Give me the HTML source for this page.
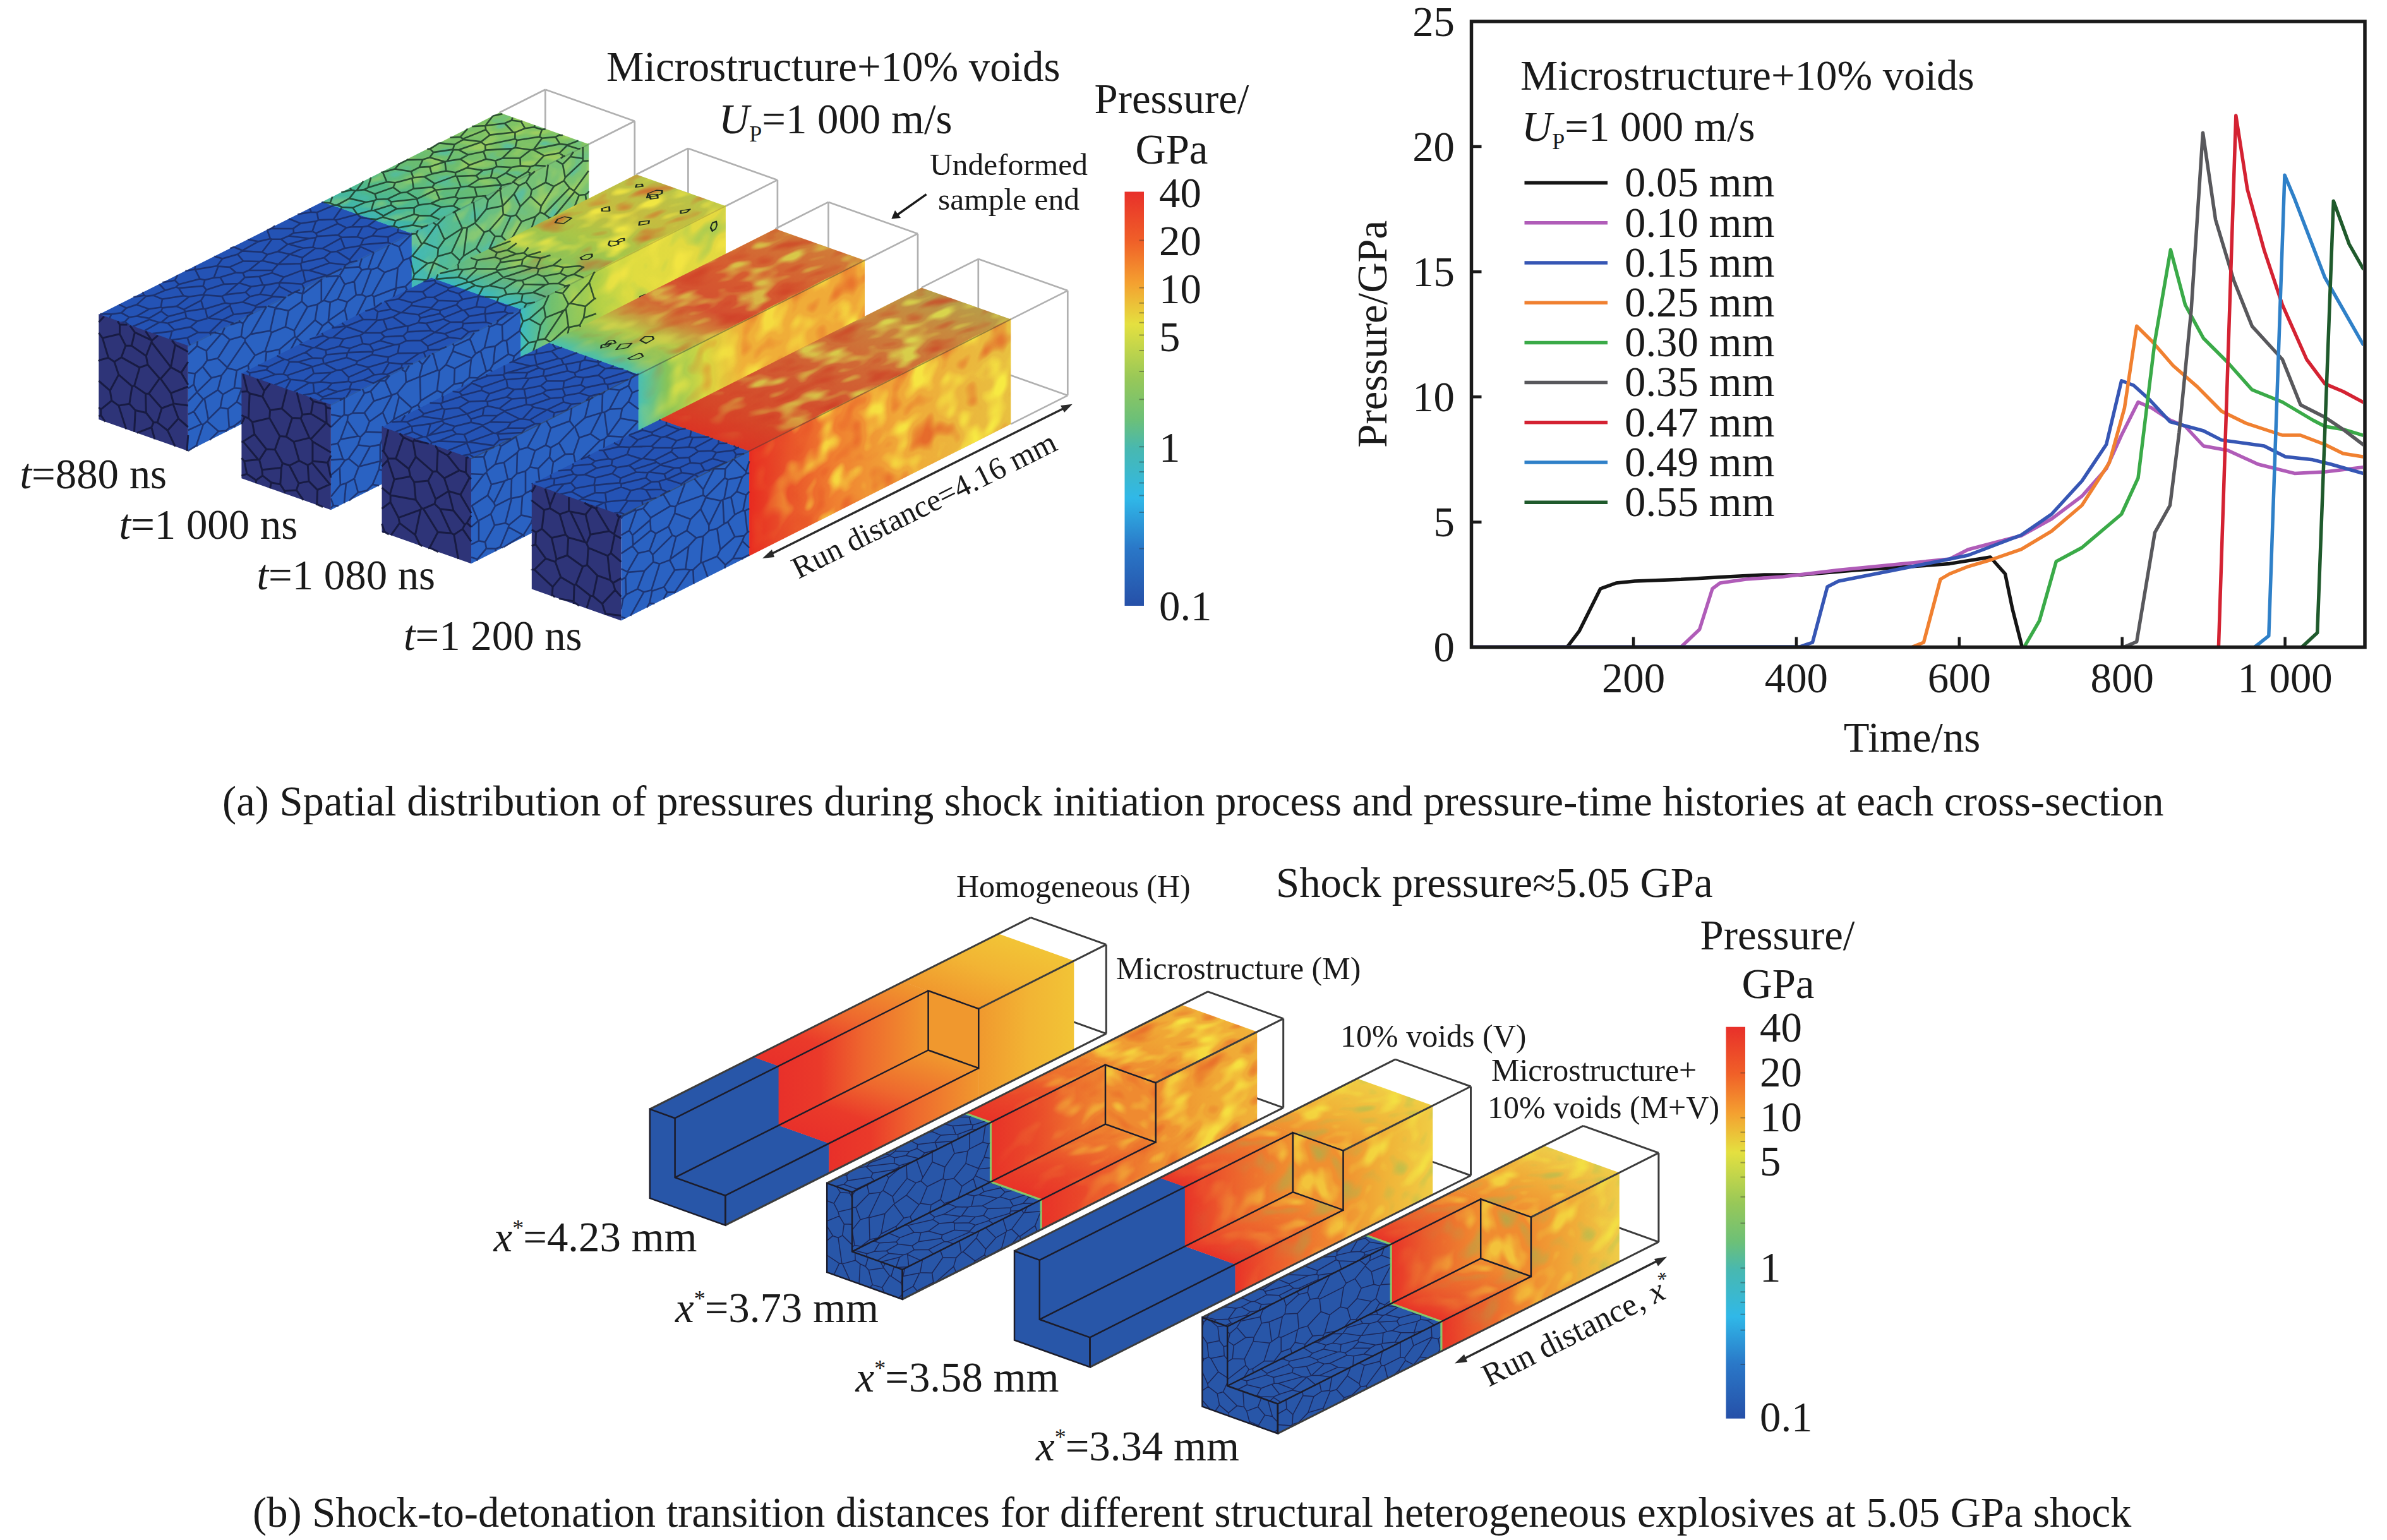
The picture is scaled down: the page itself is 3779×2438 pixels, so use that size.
<!DOCTYPE html>
<html><head><meta charset="utf-8"><title>figure</title>
<style>html,body{margin:0;padding:0;background:#fff;width:3779px;height:2438px;overflow:hidden}svg{display:block}</style>
</head><body>
<svg width="3779" height="2438" viewBox="0 0 3779 2438" font-family="'Liberation Serif', serif" fill="#1a1a1a">
<defs>
<clipPath id="plotclip"><rect x="2331" y="36" width="1410" height="987"/></clipPath>

<filter id="blobA" x="0" y="0" width="1" height="1" color-interpolation-filters="sRGB">
 <feTurbulence type="fractalNoise" baseFrequency="0.022 0.03" numOctaves="2" seed="4" result="n"/>
 <feColorMatrix in="n" type="matrix" values="0 0 0 0 0.97 0 0 0 0 0.92 0 0 0 0 0.26 4.5 0 0 0 -2.3" result="y"/>
 <feColorMatrix in="n" type="matrix" values="0 0 0 0 0.88 0 0 0 0 0.20 0 0 0 0 0.12 -4 0 0 0 1.75" result="r"/>
 <feComponentTransfer in="r" result="r2"><feFuncA type="linear" slope="0.6"/></feComponentTransfer>
 <feMerge result="m"><feMergeNode in="r2"/><feMergeNode in="y"/></feMerge>
 <feComposite in="m" in2="SourceAlpha" operator="in"/>
</filter>
<filter id="blobT" x="0" y="0" width="1" height="1" color-interpolation-filters="sRGB">
 <feTurbulence type="fractalNoise" baseFrequency="0.022 0.03" numOctaves="2" seed="4" result="n"/>
 <feColorMatrix in="n" type="matrix" values="0 0 0 0 0.85 0 0 0 0 0.84 0 0 0 0 0.30 4.5 0 0 0 -2.3" result="y"/>
 <feColorMatrix in="n" type="matrix" values="0 0 0 0 0.80 0 0 0 0 0.18 0 0 0 0 0.12 -4 0 0 0 1.75" result="r"/>
 <feComponentTransfer in="r" result="r2"><feFuncA type="linear" slope="0.6"/></feComponentTransfer>
 <feMerge result="m"><feMergeNode in="r2"/><feMergeNode in="y"/></feMerge>
 <feComposite in="m" in2="SourceAlpha" operator="in"/>
</filter>
<filter id="blobG" x="0" y="0" width="1" height="1" color-interpolation-filters="sRGB">
 <feTurbulence type="fractalNoise" baseFrequency="0.026 0.022" numOctaves="2" seed="11" result="n"/>
 <feColorMatrix in="n" type="matrix" values="0 0 0 0 0.96 0 0 0 0 0.90 0 0 0 0 0.26 4.5 0 0 0 -2.3" result="y"/>
 <feColorMatrix in="n" type="matrix" values="0 0 0 0 0.50 0 0 0 0 0.76 0 0 0 0 0.36 -4 0 0 0 1.75" result="r"/>
 <feComponentTransfer in="r" result="r2"><feFuncA type="linear" slope="0.7"/></feComponentTransfer>
 <feMerge result="m"><feMergeNode in="r2"/><feMergeNode in="y"/></feMerge>
 <feComposite in="m" in2="SourceAlpha" operator="in"/>
</filter>
<filter id="blobC" x="0" y="0" width="1" height="1" color-interpolation-filters="sRGB">
 <feTurbulence type="fractalNoise" baseFrequency="0.035 0.03" numOctaves="2" seed="21" result="n"/>
 <feColorMatrix in="n" type="matrix" values="0 0 0 0 0.70 0 0 0 0 0.84 0 0 0 0 0.36 4.5 0 0 0 -2.3" result="y"/>
 <feColorMatrix in="n" type="matrix" values="0 0 0 0 0.28 0 0 0 0 0.74 0 0 0 0 0.74 -4.5 0 0 0 1.9" result="r"/>
 <feComponentTransfer in="r" result="r2"><feFuncA type="linear" slope="0.7"/></feComponentTransfer>
 <feComponentTransfer in="y" result="y2"><feFuncA type="linear" slope="0.7"/></feComponentTransfer>
 <feMerge result="m"><feMergeNode in="r2"/><feMergeNode in="y2"/></feMerge>
 <feComposite in="m" in2="SourceAlpha" operator="in"/>
</filter>
<filter id="blobB" x="0" y="0" width="1" height="1" color-interpolation-filters="sRGB">
 <feTurbulence type="fractalNoise" baseFrequency="0.026 0.022" numOctaves="2" seed="9" result="n"/>
 <feColorMatrix in="n" type="matrix" values="0 0 0 0 0.97 0 0 0 0 0.92 0 0 0 0 0.26 4.5 0 0 0 -2.3" result="y"/>
 <feColorMatrix in="n" type="matrix" values="0 0 0 0 0.88 0 0 0 0 0.20 0 0 0 0 0.12 -4 0 0 0 1.75" result="r"/>
 <feComponentTransfer in="r" result="r2"><feFuncA type="linear" slope="0.6"/></feComponentTransfer>
 <feMerge result="m"><feMergeNode in="r2"/><feMergeNode in="y"/></feMerge>
 <feComposite in="m" in2="SourceAlpha" operator="in"/>
</filter>

<linearGradient id="ga1t" gradientUnits="userSpaceOnUse" x1="354" y1="0" x2="634.4" y2="0"><stop offset="0.0000" stop-color="#3cb4b0"/><stop offset="0.1641" stop-color="#4cb890"/><stop offset="0.4137" stop-color="#66bc74"/><stop offset="0.7347" stop-color="#78c068"/><stop offset="0.9986" stop-color="#80c464"/></linearGradient>
<linearGradient id="ga1r" gradientUnits="userSpaceOnUse" x1="354" y1="0" x2="634.4" y2="0"><stop offset="0.0000" stop-color="#40b8b8"/><stop offset="0.2354" stop-color="#58bc90"/><stop offset="0.5920" stop-color="#74c078"/><stop offset="0.9986" stop-color="#7cc470"/></linearGradient>
<linearGradient id="ga1ta" gradientUnits="userSpaceOnUse" x1="354" y1="0" x2="634.4" y2="0"><stop offset="0.0000" stop-color="#fff" stop-opacity="0.5"/><stop offset="0.9986" stop-color="#fff" stop-opacity="0.9"/></linearGradient>
<linearGradient id="ga1ra" gradientUnits="userSpaceOnUse" x1="354" y1="0" x2="634.4" y2="0"><stop offset="0.0000" stop-color="#fff" stop-opacity="0.5"/><stop offset="0.9986" stop-color="#fff" stop-opacity="0.9"/></linearGradient>
<linearGradient id="ga2t" gradientUnits="userSpaceOnUse" x1="300.4" y1="0" x2="625" y2="0"><stop offset="0.0000" stop-color="#38b8c0"/><stop offset="0.1220" stop-color="#5cb888"/><stop offset="0.3068" stop-color="#84c05c"/><stop offset="0.5225" stop-color="#a8c648"/><stop offset="0.7689" stop-color="#c4bc40"/><stop offset="1.0000" stop-color="#b8c448"/></linearGradient>
<linearGradient id="ga2r" gradientUnits="userSpaceOnUse" x1="300.4" y1="0" x2="625" y2="0"><stop offset="0.0000" stop-color="#3cbcc0"/><stop offset="0.1528" stop-color="#70c070"/><stop offset="0.3685" stop-color="#b0d048"/><stop offset="0.5533" stop-color="#e0dc40"/><stop offset="1.0000" stop-color="#e4d840"/></linearGradient>
<linearGradient id="ga2ta" gradientUnits="userSpaceOnUse" x1="300.4" y1="0" x2="625" y2="0"><stop offset="0.0000" stop-color="#fff" stop-opacity="0"/><stop offset="0.1836" stop-color="#fff" stop-opacity="0.2"/><stop offset="0.4917" stop-color="#fff" stop-opacity="0.8"/><stop offset="1.0000" stop-color="#fff" stop-opacity="0.9"/></linearGradient>
<linearGradient id="ga2ra" gradientUnits="userSpaceOnUse" x1="300.4" y1="0" x2="625" y2="0"><stop offset="0.0000" stop-color="#fff" stop-opacity="0"/><stop offset="0.1836" stop-color="#fff" stop-opacity="0.2"/><stop offset="0.4917" stop-color="#fff" stop-opacity="0.8"/><stop offset="1.0000" stop-color="#fff" stop-opacity="0.9"/></linearGradient>
<linearGradient id="ga3t" gradientUnits="userSpaceOnUse" x1="264.6" y1="0" x2="623" y2="0"><stop offset="0.0000" stop-color="#48c0b0"/><stop offset="0.0988" stop-color="#80c060"/><stop offset="0.2104" stop-color="#b8c848"/><stop offset="0.3499" stop-color="#d08038"/><stop offset="0.4615" stop-color="#d45030"/><stop offset="0.7126" stop-color="#d65c30"/><stop offset="1.0000" stop-color="#d07c38"/></linearGradient>
<linearGradient id="ga3r" gradientUnits="userSpaceOnUse" x1="264.6" y1="0" x2="623" y2="0"><stop offset="0.0000" stop-color="#48c0b4"/><stop offset="0.1267" stop-color="#88c458"/><stop offset="0.2941" stop-color="#d8d840"/><stop offset="0.4615" stop-color="#f0b038"/><stop offset="1.0000" stop-color="#f0a838"/></linearGradient>
<linearGradient id="ga3ta" gradientUnits="userSpaceOnUse" x1="264.6" y1="0" x2="623" y2="0"><stop offset="0.0000" stop-color="#fff" stop-opacity="0.1"/><stop offset="0.1825" stop-color="#fff" stop-opacity="0.6"/><stop offset="1.0000" stop-color="#fff" stop-opacity="0.9"/></linearGradient>
<linearGradient id="ga3ra" gradientUnits="userSpaceOnUse" x1="264.6" y1="0" x2="623" y2="0"><stop offset="0.0000" stop-color="#fff" stop-opacity="0.1"/><stop offset="0.1825" stop-color="#fff" stop-opacity="0.6"/><stop offset="1.0000" stop-color="#fff" stop-opacity="0.9"/></linearGradient>
<linearGradient id="ga4t" gradientUnits="userSpaceOnUse" x1="202.8" y1="0" x2="617" y2="0"><stop offset="0.0000" stop-color="#dc3424"/><stop offset="0.1381" stop-color="#d64628"/><stop offset="0.3554" stop-color="#d25630"/><stop offset="0.5968" stop-color="#d06c36"/><stop offset="0.8382" stop-color="#c8883e"/><stop offset="1.0000" stop-color="#b89c48"/></linearGradient>
<linearGradient id="ga4r" gradientUnits="userSpaceOnUse" x1="202.8" y1="0" x2="617" y2="0"><stop offset="0.0000" stop-color="#e82a20"/><stop offset="0.1140" stop-color="#e84a28"/><stop offset="0.3312" stop-color="#f08030"/><stop offset="0.5727" stop-color="#f0a838"/><stop offset="1.0000" stop-color="#e8c040"/></linearGradient>
<linearGradient id="ga4ta" gradientUnits="userSpaceOnUse" x1="202.8" y1="0" x2="617" y2="0"><stop offset="0.0000" stop-color="#fff" stop-opacity="0"/><stop offset="0.0898" stop-color="#fff" stop-opacity="0.2"/><stop offset="0.2830" stop-color="#fff" stop-opacity="0.8"/><stop offset="1.0000" stop-color="#fff" stop-opacity="1.0"/></linearGradient>
<linearGradient id="ga4ra" gradientUnits="userSpaceOnUse" x1="202.8" y1="0" x2="617" y2="0"><stop offset="0.0000" stop-color="#fff" stop-opacity="0"/><stop offset="0.0898" stop-color="#fff" stop-opacity="0.2"/><stop offset="0.2830" stop-color="#fff" stop-opacity="0.8"/><stop offset="1.0000" stop-color="#fff" stop-opacity="1.0"/></linearGradient>
<linearGradient id="cba" x1="0" y1="0" x2="0" y2="1"><stop offset="0" stop-color="#e8302a"/><stop offset="0.12" stop-color="#f06028"/><stop offset="0.22" stop-color="#f4a030"/><stop offset="0.32" stop-color="#e4e040"/><stop offset="0.45" stop-color="#98c858"/><stop offset="0.55" stop-color="#6cc078"/><stop offset="0.62" stop-color="#48b8b0"/><stop offset="0.74" stop-color="#30b8e8"/><stop offset="0.86" stop-color="#2a78c8"/><stop offset="1.0" stop-color="#2650a8"/></linearGradient><linearGradient id="cbb" x1="0" y1="0" x2="0" y2="1"><stop offset="0" stop-color="#e8302a"/><stop offset="0.12" stop-color="#f06028"/><stop offset="0.22" stop-color="#f4a030"/><stop offset="0.32" stop-color="#e4e040"/><stop offset="0.45" stop-color="#98c858"/><stop offset="0.55" stop-color="#6cc078"/><stop offset="0.62" stop-color="#48b8b0"/><stop offset="0.74" stop-color="#30b8e8"/><stop offset="0.86" stop-color="#2a78c8"/><stop offset="1.0" stop-color="#2650a8"/></linearGradient>
<linearGradient id="gb1" gradientUnits="userSpaceOnUse" x1="164" y1="0" x2="552" y2="0"><stop offset="0.0000" stop-color="#e8302a"/><stop offset="0.1701" stop-color="#ea3a2a"/><stop offset="0.3505" stop-color="#ee682e"/><stop offset="0.6082" stop-color="#f0982e"/><stop offset="0.8144" stop-color="#f2b434"/><stop offset="1.0000" stop-color="#f2c436"/></linearGradient>
<linearGradient id="gb2" gradientUnits="userSpaceOnUse" x1="219.5" y1="0" x2="561.5" y2="0"><stop offset="0.0000" stop-color="#e83228"/><stop offset="0.2061" stop-color="#ea4a2a"/><stop offset="0.5278" stop-color="#ef8a30"/><stop offset="0.7617" stop-color="#f0a434"/><stop offset="0.9985" stop-color="#f0b038"/></linearGradient>
<linearGradient id="gb2a" gradientUnits="userSpaceOnUse" x1="219.5" y1="0" x2="561.5" y2="0"><stop offset="0.0000" stop-color="#fff" stop-opacity="0"/><stop offset="0.2354" stop-color="#fff" stop-opacity="0.15"/><stop offset="0.5278" stop-color="#fff" stop-opacity="0.6"/><stop offset="0.9985" stop-color="#fff" stop-opacity="0.9"/></linearGradient>
<linearGradient id="gb2na" gradientUnits="userSpaceOnUse" x1="0" y1="0" x2="1" y2="0"><stop offset="0.0000" stop-color="#fff" stop-opacity="0.6"/><stop offset="1.0000" stop-color="#fff" stop-opacity="0.6"/></linearGradient>
<clipPath id="fc2"><path d="M0,0H47V94H141V141H0Z"/></clipPath>
<linearGradient id="gb3" gradientUnits="userSpaceOnUse" x1="230" y1="0" x2="542.7" y2="0"><stop offset="0.0000" stop-color="#e83228"/><stop offset="0.1919" stop-color="#ec5a2c"/><stop offset="0.5437" stop-color="#f09030"/><stop offset="0.7675" stop-color="#f0b438"/><stop offset="0.9978" stop-color="#f0cc44"/></linearGradient>
<linearGradient id="gb3a" gradientUnits="userSpaceOnUse" x1="230" y1="0" x2="542.7" y2="0"><stop offset="0.0000" stop-color="#fff" stop-opacity="0"/><stop offset="0.2239" stop-color="#fff" stop-opacity="0.2"/><stop offset="0.5437" stop-color="#fff" stop-opacity="0.6"/><stop offset="0.9978" stop-color="#fff" stop-opacity="0.9"/></linearGradient>
<linearGradient id="gb3na" gradientUnits="userSpaceOnUse" x1="0" y1="0" x2="1" y2="0"><stop offset="0.0000" stop-color="#fff" stop-opacity="0.6"/><stop offset="1.0000" stop-color="#fff" stop-opacity="0.6"/></linearGradient>
<linearGradient id="gb4" gradientUnits="userSpaceOnUse" x1="259" y1="0" x2="540.8" y2="0"><stop offset="0.0000" stop-color="#e83228"/><stop offset="0.1810" stop-color="#ea5a2c"/><stop offset="0.5004" stop-color="#f08c30"/><stop offset="0.7488" stop-color="#f0ac38"/><stop offset="0.9972" stop-color="#eecc48"/></linearGradient>
<linearGradient id="gb4a" gradientUnits="userSpaceOnUse" x1="259" y1="0" x2="540.8" y2="0"><stop offset="0.0000" stop-color="#fff" stop-opacity="0"/><stop offset="0.2165" stop-color="#fff" stop-opacity="0.2"/><stop offset="0.5713" stop-color="#fff" stop-opacity="0.6"/><stop offset="0.9972" stop-color="#fff" stop-opacity="0.9"/></linearGradient>
<linearGradient id="gb4na" gradientUnits="userSpaceOnUse" x1="0" y1="0" x2="1" y2="0"><stop offset="0.0000" stop-color="#fff" stop-opacity="0.6"/><stop offset="1.0000" stop-color="#fff" stop-opacity="0.6"/></linearGradient>
<clipPath id="fc4"><path d="M0,0H47V94H141V141H0Z"/></clipPath>
</defs>
<rect width="3779" height="2438" fill="#ffffff"/>
<path d="M790.7,178.3L863.3,141.7M932.2,228.3L1004.8,191.7M863.3,141.7L1004.8,191.7M863.3,141.7L863.3,307.7M1004.8,191.7L1004.8,357.7M863.3,307.7L1004.8,357.7M932.2,394.3L1004.8,357.7" stroke="#b0b0b0" stroke-width="2.7" fill="none"/>
<g transform="matrix(1,-0.504,0.85241,0.30120,156.3,498)">
<rect x="0" y="0" width="354.5" height="166" fill="#2453b5"/>
<rect x="354" y="0" width="280.4" height="166" fill="url(#ga1t)"/>
<rect x="354" y="0" width="280.4" height="166" fill="url(#ga1ta)" filter="url(#blobC)"/>
</g>
<g transform="matrix(1,-0.504,0,1,297.8,548)">
<rect x="0" y="-1.5" width="354.5" height="167.5" fill="#2a62c2"/>
<rect x="354" y="-1.5" width="280.4" height="167.5" fill="url(#ga1r)"/>
<rect x="354" y="-1.5" width="280.4" height="167.5" fill="url(#ga1ra)" filter="url(#blobC)"/>
</g>
<path d="M0 132L17 116M17 116L0 100M37 127L32 147M37 127L21 116M32 147L15 147M21 116L17 116M0 134L15 147M71 147L39 160M71 147L65 127M37 127L52 122M32 147L39 160M52 122L64 127M39 160L38 162M71 147L72 166M44 166L38 162M93 166L103 164M103 164L103 166M21 116L29 94M52 122L51 103M29 94L51 103M29 94L27 85M27 85L25 83M25 83L0 85M15 147L3 166M102 124L106 121M102 124L88 147M106 121L117 130M117 130L118 152M88 147L104 162M104 162L116 156M116 156L118 152M65 127L102 124M64 127L80 104M80 104L104 113M104 113L106 121M71 147L88 147M103 164L104 162M124 166L116 156M36 166L35 166M38 162L36 166M9 13L0 20M9 13L2 0M18 21L30 16M18 21L9 13M30 16L32 0M318 35L314 35M318 35L329 50M314 35L293 53M293 53L292 61M329 50L329 54M329 54L324 64M324 64L292 61M300 23L314 35M300 23L286 26M293 53L278 36M286 26L278 36M301 0L300 23M279 0L271 2M286 26L271 2M318 35L331 17M315 0L328 10M331 17L328 10M328 10L334 0M324 128L332 148M324 128L313 125M332 148L322 160M313 125L300 135M300 135L322 160M332 148L347 148M347 148L351 166M321 166L322 160M15 39L22 45M15 39L4 44M22 45L26 63M4 44L0 57M0 63L24 66M24 66L26 63M18 21L15 39M43 20L30 16M43 20L43 43M43 43L22 45M0 42L4 44M25 83L24 66M354 65L329 54M329 50L354 35M354 20L331 17M327 86L322 82M327 86L334 98M322 82L303 89M334 98L312 114M312 114L301 98M303 89L301 98M350 76L354 65M350 76L327 86M324 64L322 82M350 76L354 89M339 102L354 98M339 102L334 98M292 61L287 69M287 69L303 89M324 128L339 120M313 125L312 114M339 102L339 120M271 2L266 1M266 1L266 0M252 23L266 1M252 23L239 16M239 16L236 0M27 85L42 80M51 103L61 89M61 89L42 80M26 63L47 61M42 80L47 61M70 36L90 52M70 36L54 52M90 52L92 60M54 52L54 55M92 60L66 67M66 67L54 55M43 43L54 52M47 61L54 55M90 52L101 30M116 64L105 71M116 64L121 52M92 60L105 71M121 52L101 30M137 0L146 7M146 7L153 0M147 151L147 148M147 151L153 166M147 148L170 136M170 136L166 165M158 166L166 165M118 152L147 151M117 130L132 126M147 148L143 132M132 126L143 132M354 3L353 0M300 135L297 136M301 98L299 99M299 99L283 125M297 136L283 125M268 101L267 118M268 101L299 99M267 118L272 123M272 123L283 125M284 70L287 69M284 70L264 88M268 101L264 93M264 88L264 93M269 37L258 36M269 37L278 65M258 36L253 54M278 65L254 55M254 55L253 54M252 23L252 26M278 36L269 37M252 26L258 36M284 70L278 65M252 26L222 43M233 59L253 54M233 59L221 54M221 54L222 43M256 79L264 88M256 79L254 55M233 59L236 78M236 78L256 79M62 88L65 82M62 88L79 102M65 82L93 81M79 102L93 81M61 89L62 88M66 67L65 82M80 104L79 102M105 73L105 71M105 73L93 81M104 113L114 95M114 95L105 73M125 0L113 9M146 7L146 8M113 9L108 22M108 22L132 33M146 8L132 33M121 52L133 41M101 30L101 25M101 25L108 22M133 41L132 33M166 165L177 166M264 93L238 99M238 99L236 78M206 62L221 54M206 62L210 87M236 78L210 87M210 87L210 87M339 120L354 128M347 148L354 141M294 166L296 139M296 139L265 155M268 166L261 161M261 161L265 155M297 136L296 139M272 123L265 155M183 0L184 14M208 0L213 1M184 14L202 21M202 21L211 19M213 1L212 18M212 18L211 19M146 8L167 24M167 24L184 14M214 0L213 1M206 62L203 61M203 61L193 42M222 43L211 19M193 42L202 21M239 16L212 18M71 0L69 1M96 0L88 20M69 1L65 8M71 18L88 20M71 18L65 12M65 12L65 8M113 9L101 0M69 0L69 1M101 25L88 20M55 0L65 8M70 36L71 18M43 20L65 12M148 52L167 59M148 52L143 46M143 46L167 26M167 59L173 40M173 40L167 26M116 64L138 71M138 71L148 52M133 41L143 46M167 24L167 26M193 42L173 40M221 166L222 165M222 165L243 166M261 161L253 162M247 166L253 162M148 85L150 85M148 85L119 95M150 85L151 106M119 95L137 112M137 112L151 106M114 95L119 95M138 71L148 85M132 126L137 112M167 59L171 67M150 85L164 79M164 79L171 67M203 61L180 68M180 68L171 67M210 87L195 94M180 68L195 94M163 118L162 115M163 118L177 128M162 115L175 93M177 128L190 121M190 121L190 99M190 99L175 93M143 132L163 118M151 106L162 115M170 136L177 128M164 79L175 93M183 166L189 156M189 156L177 128M195 94L190 99M267 118L252 123M238 99L229 109M252 123L229 109M253 162L246 140M252 123L246 140M210 87L226 110M229 109L226 110M190 121L214 126M226 110L214 126M221 164L219 134M221 164L195 155M195 155L215 127M219 134L215 127M222 165L221 164M246 140L219 134M189 156L195 155M214 126L215 127" fill="none" stroke="#1a2a60" stroke-width="2.6" stroke-opacity="0.8" vector-effect="non-scaling-stroke" transform="matrix(1,-0.504,0.85241,0.30120,156.3,498)"/>
<path d="M634 25L628 30M628 30L632 43M632 43L634 43M622 62L632 43M622 62L630 69M630 69L634 67M586 115L580 93M586 115L564 121M564 121L552 102M552 102L576 92M576 92L580 93M588 117L586 115M588 117L584 142M584 142L560 153M564 121L550 138M560 153L555 151M555 151L550 138M618 29L601 13M618 29L628 30M634 6L624 0M601 13L624 0M523 58L536 57M523 58L511 48M539 36L536 57M539 36L536 30M536 30L511 48M552 102L543 100M576 92L556 66M556 66L552 67M552 67L540 86M543 100L540 86M523 58L518 81M552 67L536 57M540 86L518 81M493 166L502 160M472 166L465 157M465 157L480 135M480 135L502 158M502 160L502 158M462 156L449 141M462 156L449 166M449 141L432 152M432 152L430 165M431 166L430 165M631 83L634 86M631 83L616 96M616 96L615 102M615 102L626 114M632 114L626 114M632 114L634 112M630 69L631 83M588 117L589 117M595 79L580 93M595 79L616 96M589 117L615 102M589 117L616 134M616 134L626 114M634 118L632 114M513 166L525 161M542 166L544 159M525 161L544 159M502 160L512 166M541 132L527 138M541 132L533 114M533 114L527 114M527 114L509 131M527 138L511 139M511 139L509 131M555 151L544 159M550 138L541 132M525 161L527 138M543 100L533 114M517 107L511 84M517 107L527 114M518 81L511 84M503 111L517 107M503 111L498 122M498 122L509 131M502 158L511 139M498 122L478 125M478 125L480 135M587 38L569 43M587 38L607 58M596 74L565 55M596 74L608 60M565 55L568 44M608 60L607 58M568 44L569 43M618 29L607 58M601 13L594 22M594 22L587 38M595 79L596 74M556 66L565 55M622 62L608 60M539 36L568 44M594 22L562 17M569 43L561 19M561 19L562 17M450 134L449 141M450 134L470 119M478 125L472 119M465 157L462 156M472 119L470 119M503 111L489 91M472 119L489 91M495 82L489 89M495 82L511 84M489 91L489 89M450 98L453 88M450 98L470 119M489 89L461 83M461 83L453 88M427 71L422 97M427 71L438 71M438 71L453 88M450 98L422 97M450 134L435 123M450 98L435 123M422 141L432 152M422 141L422 122M435 123L422 122M560 153L566 166M619 144L634 147M619 144L616 134M354 65L363 46M354 35L357 33M363 46L357 33M356 20L354 20M356 20L358 23M358 23L357 33M354 89L357 97M354 98L357 97M372 75L370 72M372 75L368 97M370 72L354 65M357 97L365 99M368 97L365 99M427 71L422 66M438 71L456 47M422 66L427 46M427 46L437 38M437 38L456 47M357 11L354 3M357 11L370 0M356 20L357 11M395 6L384 0M395 6L398 0M596 164L597 166M596 164L599 153M619 165L618 166M619 165L618 145M599 153L618 145M590 166L596 164M584 142L599 153M621 166L619 165M619 144L618 145M564 10L556 0M564 10L584 0M601 13L591 0M562 17L564 10M518 14L522 3M518 14L536 29M522 3L539 0M539 0L546 20M536 29L546 20M520 0L522 3M561 19L546 20M363 46L382 48M358 23L378 22M382 48L378 22M370 72L390 54M382 48L390 54M402 65L394 54M402 65L422 66M427 46L403 40M394 54L403 40M395 6L396 12M378 22L396 12M354 128L356 130M365 99L367 121M367 121L356 130M354 141L356 139M356 139L356 130M421 97L411 112M421 97L399 75M390 96L403 113M390 96L393 82M411 112L403 113M393 82L399 75M422 122L411 112M402 65L399 75M368 97L390 96M367 121L391 127M391 127L403 113M372 75L393 82M390 54L394 54M461 83L467 57M456 47L458 47M458 47L467 57M495 82L492 68M492 68L477 59M477 59L467 57M373 164L380 166M373 164L370 149M370 149L392 135M398 166L399 148M399 148L392 135M369 166L373 164M356 139L370 149M391 127L392 135M430 165L419 166M422 141L399 148M419 0L397 13M431 0L410 19M410 19L404 19M397 13L404 19M396 12L397 13M448 2L433 27M448 2L447 0M433 27L410 19M437 38L433 27M403 40L404 19M448 2L462 8M458 47L468 31M468 31L462 8M474 0L474 2M474 2L462 8M489 0L487 2M474 2L487 2M489 41L481 31M489 41L508 47M481 31L498 18M508 47L506 21M506 21L498 18M477 59L489 41M468 31L481 31M492 68L508 47M487 2L498 18M511 48L508 47M518 14L506 21" fill="none" stroke="#1c3a28" stroke-width="2.6" vector-effect="non-scaling-stroke" stroke-opacity="0.85" transform="matrix(1,-0.504,0.85241,0.30120,156.3,498)"/>
<path d="M14 80L9 65M14 80L37 69M37 69L23 44M9 65L11 49M23 44L11 49M249 166L248 164M215 166L221 158M221 158L248 164M310 166L306 164M318 166L335 159M306 164L329 125M330 125L335 128M335 159L335 128M53 73L47 93M53 73L37 69M14 80L24 96M24 96L26 96M26 96L47 93M53 73L62 66M62 66L77 77M55 104L47 93M55 104L73 103M77 77L73 103M0 13L14 7M15 0L14 7M42 0L52 7M14 7L29 22M52 7L29 22M62 65L62 66M62 65L47 43M23 44L30 38M47 43L30 38M11 49L0 42M30 38L29 22M9 65L0 67M14 80L0 87M73 163L85 160M73 163L74 166M85 160L95 166M91 143L77 127M91 143L100 137M100 137L96 108M77 127L85 110M85 110L96 108M95 78L77 77M95 78L99 106M73 103L85 110M99 106L96 108M298 166L302 163M302 163L306 164M354 0L354 1M248 144L236 136M248 144L267 131M236 136L244 104M267 131L244 104M221 158L217 136M217 136L236 136M248 164L248 144M324 89L333 104M324 89L298 106M333 104L330 125M329 125L314 122M298 106L314 122M302 163L297 149M314 122L297 149M268 166L279 139M297 149L279 139M267 131L273 131M279 139L273 131M298 106L297 105M273 131L287 109M297 105L287 109M324 89L330 74M329 74L330 74M329 74L294 70M297 105L294 70M169 136L171 133M169 136L168 155M196 162L168 155M196 162L198 135M171 133L198 135M217 136L211 132M211 132L204 132M196 162L197 166M198 135L204 132M85 160L91 143M109 166L123 155M100 137L114 138M123 155L114 138M143 139L135 124M143 139L134 157M134 157L123 155M114 138L126 119M126 119L135 124M62 65L90 38M95 78L106 68M106 68L90 38M329 74L332 43M332 43L311 40M294 70L291 66M311 40L291 66M73 163L65 162M77 127L63 131M65 162L63 131M55 104L51 123M26 96L32 132M32 132L51 123M63 131L51 123M54 7L66 23M54 7L58 0M67 0L82 3M66 23L84 27M84 27L87 8M87 8L82 3M52 7L54 7M47 43L66 23M81 0L82 3M90 38L90 34M90 34L84 27M24 96L9 108M9 108L0 108M166 159L169 166M166 159L141 166M168 155L166 159M169 136L143 139M134 157L141 166M330 74L344 79M332 43L341 36M341 36L351 37M351 37L354 50M344 79L354 74M333 104L350 94M344 79L350 94M211 132L229 104M195 94L204 132M195 94L198 93M198 93L229 104M243 100L244 104M243 100L240 100M240 100L229 104M243 100L253 92M287 109L263 92M253 92L263 92M291 66L282 64M263 92L282 64M172 74L184 91M172 74L151 104M184 91L166 116M166 116L159 113M151 104L159 113M195 94L184 91M171 133L166 116M135 124L159 113M120 107L122 109M120 107L124 72M122 109L144 100M144 100L145 78M124 72L145 78M99 106L120 107M126 119L122 109M106 68L122 69M122 69L124 72M151 104L144 100M169 70L172 73M169 70L145 78M172 73L172 74M87 8L95 0M122 69L132 45M169 70L168 60M168 60L154 47M132 45L154 47M311 40L300 27M275 57L282 64M275 57L290 25M300 27L290 25M334 11L341 36M334 11L322 0M300 27L318 0M335 159L348 166M335 128L338 127M338 127L354 138M65 162L60 164M60 164L60 166M90 34L99 31M132 45L130 41M99 31L130 41M290 25L285 21M285 21L294 0M334 11L354 1M350 94L354 98M338 127L354 116M351 37L354 36M9 108L21 134M21 134L0 133M198 93L213 75M172 73L201 60M201 60L213 75M240 100L222 73M213 75L222 73M253 92L248 67M248 67L222 72M222 73L222 72M248 0L247 0M168 60L189 33M201 60L205 37M189 33L205 37M275 57L266 53M248 67L252 57M266 53L252 57M60 164L48 159M48 159L34 166M32 132L30 134M48 159L30 134M21 134L24 136M30 134L24 136M0 166L13 164M15 166L13 164M24 136L13 164M222 72L225 44M205 37L211 36M211 36L215 36M225 44L215 36M252 57L237 45M225 44L237 45M99 31L124 0M130 41L138 9M138 9L126 0M248 27L240 9M248 27L263 30M263 30L275 18M247 1L240 9M247 1L271 11M275 18L271 11M215 36L239 9M237 45L248 27M266 53L263 30M285 21L275 18M275 0L271 11M247 0L247 1M239 9L218 0M211 36L211 1M212 0L211 1M180 20L181 9M180 20L159 24M170 0L181 8M155 0L138 9M159 24L138 9M189 33L180 20M211 1L181 9M154 47L159 24M184 0L181 8M138 9L138 9" fill="none" stroke="#1a2a60" stroke-width="2.6" stroke-opacity="0.8" vector-effect="non-scaling-stroke" transform="matrix(1,-0.504,0,1,297.8,548)"/>
<path d="M634 76L634 76M634 76L634 74M625 0L625 18M634 26L625 22M625 22L625 18M622 166L634 154M634 154L634 154M611 62L612 64M611 62L634 42M612 64L619 73M634 76L629 77M629 77L619 73M602 166L602 160M634 154L630 131M630 131L616 134M602 160L616 134M612 64L578 88M578 88L584 98M602 107L619 73M602 107L601 107M601 107L584 98M602 160L591 129M616 134L598 122M598 122L591 129M541 3L540 0M541 3L549 0M528 69L550 72M528 69L514 86M538 101L550 72M538 101L534 105M534 105L514 86M634 106L633 107M634 129L631 129M631 129L627 113M633 107L627 113M629 77L633 107M630 131L631 129M602 107L627 113M601 107L598 122M526 44L542 36M526 44L516 19M542 36L544 27M544 27L535 10M535 10L524 10M516 19L524 10M519 54L526 44M519 54L511 52M498 29L516 19M498 29L499 43M511 52L499 43M566 26L544 27M566 26L570 0M541 3L535 10M515 0L524 10M496 0L494 2M494 2L498 29M579 39L559 60M579 39L595 38M604 54L564 75M604 54L595 38M559 60L557 69M564 75L557 69M566 26L579 39M542 36L559 60M611 62L604 54M578 88L572 85M572 85L564 75M597 34L625 22M597 34L595 38M528 69L519 54M550 72L557 69M538 101L559 103M559 103L572 85M494 2L491 1M491 1L490 0M364 0L361 4M361 4L354 1M514 86L505 89M511 52L496 76M505 89L496 76M405 166L403 165M403 165L403 166M366 146L368 158M366 146L374 131M400 162L368 158M400 162L401 149M401 149L374 131M470 0L475 8M452 0L455 33M475 8L472 21M472 21L455 33M491 1L475 8M498 29L472 21M421 0L422 0M551 129L544 161M551 129L562 127M571 132L564 127M571 132L574 161M574 161L544 161M562 127L564 127M559 103L562 127M534 105L532 120M532 120L551 129M584 98L564 127M591 129L571 132M580 166L574 161M610 0L605 5M605 5L593 11M593 11L583 0M625 18L605 5M597 34L593 11M544 161L538 166M532 120L524 124M524 124L515 164M522 166L515 164M354 50L358 67M358 67L356 73M354 74L356 73M436 77L456 75M436 77L442 35M442 35L454 34M454 34L469 56M456 75L469 56M499 43L477 57M496 76L486 71M486 71L477 57M454 34L455 33M469 56L477 57M511 166L511 165M508 166L511 165M515 164L513 164M513 164L511 165M524 124L510 119M510 119L499 133M513 164L499 133M411 166L421 165M421 165L424 166M365 166L364 162M354 166L364 162M403 165L400 162M368 158L364 162M354 138L366 146M388 0L393 6M407 0L395 6M393 6L395 6M499 98L473 93M499 98L499 109M499 109L479 121M479 121L463 105M463 105L468 94M468 94L473 93M505 89L499 98M486 71L473 93M510 119L499 109M451 109L463 105M451 109L428 86M436 77L430 81M428 86L430 81M456 75L468 94M478 133L478 133M478 133L441 129M478 133L477 156M477 156L462 159M441 129L439 131M461 158L462 159M461 158L439 133M439 131L439 133M499 133L478 133M479 121L478 133M451 109L441 129M490 166L477 156M460 166L462 159M428 86L426 87M426 87L423 125M423 125L439 131M435 166L461 158M421 165L439 133M401 149L406 126M423 125L406 126M399 102L398 117M399 102L379 85M398 117L376 121M379 85L378 86M378 86L361 105M376 121L362 110M362 110L361 105M426 87L415 89M415 89L399 102M406 126L398 117M389 64L379 85M389 64L415 89M374 131L376 121M356 73L378 86M354 98L361 105M354 116L362 110M354 36L355 36M361 4L370 25M370 25L355 36M393 6L373 24M370 25L373 24M358 67L379 60M355 36L379 60M389 64L389 63M389 63L379 60M395 57L396 45M395 57L417 62M396 45L406 36M417 62L435 32M406 36L434 32M435 32L434 32M373 24L396 45M389 63L395 57M430 81L417 62M395 6L406 36M442 35L435 32M422 0L434 32" fill="none" stroke="#1c3a28" stroke-width="2.6" vector-effect="non-scaling-stroke" stroke-opacity="0.85" transform="matrix(1,-0.504,0,1,297.8,548)"/>
<polygon points="156.3,497.2 297.8,547.2 297.8,714 156.3,664" fill="#2e3478"/>
<path d="M0 105L21 114M0 147L4 149M4 149L24 129M24 129L21 114M57 124L37 133M57 124L62 95M37 133L24 129M62 95L37 84M37 84L21 114M134 84L166 64M134 84L115 67M115 67L134 43M134 43L153 46M166 61L153 46M162 166L164 165M164 165L166 165M37 133L51 166M4 149L4 158M12 166L4 158M0 12L10 0M18 63L1 72M18 63L7 35M1 72L0 72M7 35L0 29M29 66L37 84M29 66L18 63M0 74L1 72M29 66L42 55M42 55L50 34M50 34L39 19M39 19L7 35M35 0L39 4M39 19L39 4M164 165L166 141M142 166L128 145M128 145L148 120M166 128L148 120M117 113L109 138M117 113L138 100M128 145L109 138M148 120L138 100M166 25L153 46M166 9L142 5M134 43L134 43M142 5L134 43M91 52L76 61M91 52L113 67M76 61L66 93M113 67L93 97M66 93L87 99M87 99L93 97M88 39L91 52M88 39L61 31M42 55L76 61M50 34L61 31M115 67L113 67M88 39L98 14M134 43L98 14M62 95L66 93M117 113L93 97M134 84L139 99M139 99L138 100M87 0L98 11M58 0L67 8M98 11L67 8M61 31L67 8M39 4L53 0M98 14L99 11M99 11L98 11M4 158L0 161M139 99L166 94M99 11L110 0M142 5L136 0M102 140L98 149M102 140L88 129M98 149L71 166M88 129L68 131M68 131L66 166M109 138L102 140M104 166L98 149M87 99L88 129M57 124L68 131" fill="none" stroke="#14183a" stroke-width="3" stroke-opacity="0.85" vector-effect="non-scaling-stroke" transform="matrix(0.85241,0.30120,0,1,156.3,498)"/>
<line x1="297.8" y1="548" x2="932.2" y2="228.3" stroke="#383838" stroke-opacity="0.2" stroke-width="2"/>
<path d="M1007.4,276.2L1089.4,234.9M1148.9,326.2L1230.9,284.9M1089.4,234.9L1230.9,284.9M1089.4,234.9L1089.4,400.9M1230.9,284.9L1230.9,450.9M1089.4,400.9L1230.9,450.9M1148.9,492.2L1230.9,450.9" stroke="#b0b0b0" stroke-width="2.7" fill="none"/>
<g transform="matrix(1,-0.504,0.85241,0.30120,382.4,591.2)">
<rect x="0" y="0" width="300.9" height="166" fill="#2453b5"/>
<rect x="300.4" y="0" width="324.6" height="166" fill="url(#ga2t)"/>
<rect x="300.4" y="0" width="324.6" height="166" fill="url(#ga2ta)" filter="url(#blobA)"/>
</g>
<g transform="matrix(1,-0.504,0,1,523.9,641.2)">
<rect x="0" y="-1.5" width="300.9" height="167.5" fill="#2a62c2"/>
<rect x="300.4" y="-1.5" width="324.6" height="167.5" fill="url(#ga2r)"/>
<rect x="300.4" y="-1.5" width="324.6" height="167.5" fill="url(#ga2ra)" filter="url(#blobG)"/>
</g>
<path d="M68 97L60 96M68 97L72 101M55 134L41 120M55 134L63 125M41 120L36 104M72 101L63 125M36 104L60 96M0 144L0 145M0 145L0 146M108 71L126 96M108 71L107 71M107 71L98 80M98 80L98 100M98 100L120 102M120 102L126 96M117 64L108 71M117 64L134 68M137 77L134 68M137 77L128 95M128 95L126 96M114 48L117 64M114 48L98 41M90 52L98 41M90 52L107 71M68 97L72 69M92 105L72 101M92 105L98 100M72 69L98 80M58 37L75 44M58 37L59 63M59 63L72 68M72 68L81 56M75 44L81 56M72 69L72 68M90 52L81 56M60 96L47 79M59 63L58 63M58 63L47 79M58 37L53 27M26 47L53 27M26 47L26 54M58 63L26 54M12 126L9 140M12 126L28 126M28 126L29 144M29 144L9 140M0 145L6 143M14 166L20 165M6 143L20 165M20 165L23 166M55 134L55 140M41 120L28 126M29 144L42 151M55 140L42 151M24 166L42 154M47 166L42 154M9 140L6 143M42 151L42 154M6 8L8 0M6 8L0 15M20 39L23 19M20 39L0 33M6 8L23 19M114 48L130 37M134 68L148 47M130 37L148 47M154 150L158 153M154 150L124 156M158 153L150 166M124 156L130 166M115 166L115 162M122 155L115 162M122 155L124 156M126 125L120 102M126 125L139 127M139 127L157 109M128 95L153 105M153 105L157 109M137 77L151 80M153 105L151 80M173 166L173 164M158 153L165 153M173 164L165 153M139 127L154 150M157 109L168 109M165 153L172 144M172 144L178 124M178 124L168 109M269 137L286 153M269 137L254 156M254 156L255 166M286 153L285 161M285 161L263 166M289 166L285 161M236 38L242 33M236 38L245 65M266 45L263 57M266 45L261 37M261 37L242 33M263 57L245 65M236 38L217 43M217 43L224 66M224 66L243 67M245 65L243 67M47 79L27 84M26 54L21 64M27 84L21 67M21 64L21 67M26 47L20 39M21 64L0 61M0 97L27 94M0 114L11 122M11 122L29 99M29 99L27 94M27 84L27 94M21 67L0 82M12 126L11 122M36 104L29 99M53 27L55 21M23 19L30 15M30 15L54 16M55 21L54 16M75 44L81 24M55 21L81 24M216 42L216 24M216 42L203 43M216 24L203 15M203 43L192 38M203 15L187 31M192 38L187 33M187 33L187 31M84 148L91 155M84 148L92 128M91 155L116 138M92 128L94 125M94 125L117 134M117 134L116 138M63 125L92 128M55 140L68 147M68 147L84 148M122 155L116 138M115 162L93 161M93 161L91 155M92 105L94 125M126 125L117 134M91 166L91 165M91 165L68 165M68 166L68 165M93 161L91 165M68 147L68 165M195 77L176 64M195 77L196 79M196 79L185 91M161 77L175 95M161 77L166 64M185 91L175 95M166 64L176 64M203 43L195 77M192 38L176 64M217 43L216 42M224 66L219 75M219 75L209 83M209 83L196 79M203 114L185 91M203 114L213 93M213 93L209 83M151 80L161 77M168 109L175 95M148 47L155 46M155 46L155 46M155 46L166 64M155 46L187 33M239 129L231 117M239 129L237 134M237 134L228 142M228 142L206 136M231 117L202 122M206 136L202 122M269 136L269 137M269 136L254 125M254 125L239 129M254 156L237 134M203 114L202 122M232 103L213 93M232 103L231 117M172 144L202 148M178 124L202 122M202 148L206 136M232 103L236 100M219 75L240 87M240 87L236 100M243 67L246 80M240 87L246 80M300 144L297 143M297 143L298 125M298 125L300 123M286 153L297 143M269 136L281 124M281 124L298 125M288 45L289 64M288 45L293 41M293 41L300 44M289 64L300 64M30 15L26 0M54 16L56 0M98 41L96 24M81 24L94 22M96 24L94 22M94 22L92 0M203 15L206 4M206 4L196 0M187 31L179 16M179 16L186 0M242 33L240 10M216 24L227 1M240 10L227 1M206 4L222 0M227 1L226 0M261 0L259 1M288 0L298 9M294 16L298 9M294 16L269 21M269 21L259 2M259 2L259 1M259 0L259 1M293 41L294 16M300 8L298 9M266 45L288 45M261 37L269 21M240 10L259 2M206 166L207 165M207 165L225 158M235 166L225 158M173 164L183 166M202 148L207 165M228 142L225 158M267 86L261 104M267 86L275 81M275 81L281 81M276 112L297 92M276 112L262 106M281 81L296 91M262 106L261 104M297 92L296 91M236 100L261 104M246 80L267 86M263 57L275 81M289 64L281 81M281 124L276 112M300 100L297 92M254 125L262 106M300 89L296 91M130 37L126 22M155 46L155 13M126 22L155 13M96 24L123 19M126 22L123 19M159 0L155 11M179 16L155 12M155 11L155 12M155 13L155 12M108 0L123 8M123 8L127 0M123 19L123 8M155 11L143 0" fill="none" stroke="#1a2a60" stroke-width="2.6" stroke-opacity="0.8" vector-effect="non-scaling-stroke" transform="matrix(1,-0.504,0.85241,0.30120,382.4,591.2)"/>
<path d="M420 63L404 57M420 40L407 47M407 47L404 57M420 81L408 77M408 77L403 57M376 108L376 119M376 108L387 98M387 98L403 106M393 131L376 119M393 131L406 122M406 122L403 106M387 93L408 77M387 93L387 98M403 106L420 101M400 166L400 148M376 166L373 164M400 148L392 145M392 145L373 151M373 151L373 164M419 143L420 144M419 143L400 148M369 166L373 164M419 143L419 136M393 131L392 145M406 122L419 136M376 119L366 141M366 141L373 151M385 89L382 72M385 89L387 93M403 57L394 60M382 72L394 60M420 18L401 23M407 47L400 41M401 23L400 41M315 160L306 166M315 160L323 166M419 136L420 135M382 72L357 56M394 60L374 42M357 56L359 51M374 42L359 51M400 41L380 35M374 42L380 35M357 56L355 59M316 49L320 42M316 49L318 52M320 42L347 31M355 59L318 52M359 51L347 31M336 17L319 28M336 17L347 26M319 28L320 42M347 31L347 26M364 0L363 0M392 1L392 0M392 1L390 17M390 17L380 25M380 25L363 12M363 0L363 12M420 7L392 1M401 23L390 17M380 35L380 25M347 26L363 12M376 108L355 105M366 141L362 140M355 105L349 115M349 115L362 140M340 166L340 143M340 143L362 140M315 150L300 144M315 150L330 135M330 135L328 128M328 128L319 118M319 118L308 116M300 123L308 116M315 160L315 150M340 143L330 135M349 115L328 128M300 44L316 49M318 52L315 64M300 64L315 64M328 103L351 99M328 103L324 80M324 80L348 78M351 99L348 78M355 105L351 99M319 118L328 103M355 59L348 78M315 64L317 77M317 77L324 80M385 89L348 78M319 28L301 8M314 0L334 11M334 11L343 0M301 8L311 0M336 17L334 11M308 116L300 100M317 77L300 89" fill="none" stroke="#1c3a28" stroke-width="2.6" vector-effect="non-scaling-stroke" stroke-opacity="0.85" transform="matrix(1,-0.504,0.85241,0.30120,382.4,591.2)"/>
<path d="M0 145L15 134M0 148L4 161M4 161L12 166M15 134L24 136M24 136L21 166M0 163L4 161M29 166L43 160M43 160L37 135M37 135L24 136M299 3L271 10M299 3L300 0M271 10L262 4M262 4L265 0M249 0L251 3M262 4L251 3M57 164L43 160M57 164L58 166M14 106L0 111M14 106L22 99M22 99L19 95M19 95L0 87M15 134L14 106M44 120L37 135M44 120L28 99M28 99L22 99M57 164L66 159M66 159L76 166M45 120L78 128M45 120L62 97M78 128L78 102M62 97L78 102M66 159L76 140M44 120L45 120M76 140L78 129M28 99L43 85M43 85L62 97M271 10L272 35M251 3L243 32M272 35L260 38M260 38L243 32M272 35L278 38M278 38L281 61M281 61L257 65M260 38L257 65M229 34L237 34M229 34L220 6M220 6L227 0M237 34L243 32M299 3L300 6M278 38L299 33M300 29L299 33M281 61L290 69M290 69L300 65M299 33L300 36M290 69L288 77M257 65L252 71M272 98L288 77M272 98L269 96M269 96L252 71M237 34L246 71M246 71L252 71M220 6L195 5M195 5L193 0M160 0L162 0M157 0L145 9M145 9L140 26M140 26L141 27M162 0L169 30M141 27L169 30M19 95L11 66M11 66L0 63M0 15L17 27M0 35L17 27M21 0L21 26M21 26L17 27M76 140L105 164M105 164L104 166M124 0L118 7M118 7L112 0M119 24L140 26M119 24L118 7M145 9L139 0M196 41L222 40M196 41L182 28M193 12L182 28M193 12L223 38M223 38L222 40M195 5L193 12M169 30L172 32M172 32L182 28M229 34L223 38M269 96L237 108M237 108L229 102M246 71L232 74M232 74L229 102M222 40L219 67M232 74L219 67M239 129L229 138M239 129L237 108M218 133L229 138M218 133L214 104M214 104L229 102M141 27L142 65M172 32L168 62M142 65L168 62M232 166L231 162M216 166L219 163M219 163L228 160M228 160L231 162M43 85L47 74M78 102L86 87M47 74L55 70M55 70L86 87M43 71L26 38M43 71L15 62M15 62L26 38M47 74L43 71M11 66L15 62M27 30L26 38M27 30L21 26M78 129L110 137M105 164L120 158M120 158L110 137M115 104L78 129M115 104L122 120M110 137L122 120M272 98L277 106M288 77L300 85M277 106L300 99M196 41L195 65M219 67L209 70M195 65L209 70M168 62L177 70M195 65L177 70M138 69L149 99M138 69L128 69M125 72L128 69M125 72L115 99M149 99L115 100M115 99L115 100M142 65L138 69M153 102L149 99M153 102L157 101M157 101L176 76M177 70L176 76M105 34L119 24M105 34L108 41M108 41L128 69M99 73L125 72M99 73L108 41M99 73L90 77M90 77L86 87M86 87L115 99M115 104L115 100M291 135L259 133M291 135L278 154M278 154L268 157M258 134L266 156M258 134L259 133M266 156L268 157M293 134L291 135M293 134L296 127M277 106L259 133M296 127L277 106M239 129L258 134M229 138L228 160M231 162L266 156M268 157L268 166M278 154L297 163M297 163L296 166M293 134L300 149M297 163L300 162M296 127L300 126M53 39L68 28M53 39L61 57M61 57L82 53M68 28L96 33M82 53L97 33M97 33L96 33M34 30L53 39M34 30L53 8M53 8L63 10M63 10L68 28M27 30L34 30M55 70L61 57M90 77L82 53M86 5L78 1M86 5L96 33M78 1L63 10M105 34L97 33M86 5L93 0M120 158L128 161M127 166L128 161M209 70L203 99M176 76L190 97M190 97L203 99M157 101L176 109M190 97L176 109M214 104L206 103M206 103L203 99M218 133L194 132M206 103L194 132M142 154L183 147M142 154L145 125M146 124L145 125M146 124L182 133M182 133L186 137M186 137L185 143M185 143L183 147M122 120L145 125M128 161L140 157M140 157L142 154M153 102L146 124M176 109L182 133M194 132L186 137M219 163L185 143M140 157L148 166M78 1L78 0M53 8L50 0M172 166L182 153M187 166L182 153M183 147L182 153" fill="none" stroke="#1a2a60" stroke-width="2.6" stroke-opacity="0.8" vector-effect="non-scaling-stroke" transform="matrix(1,-0.504,0,1,523.9,641.2)"/>
<path d="M418 0L416 1M415 0L416 1M417 133L420 145M417 133L420 131M300 6L304 21M304 21L300 29M300 65L313 59M300 36L313 59M367 8L355 0M367 8L376 30M376 30L372 35M340 33L337 14M340 33L369 36M372 35L369 36M337 14L345 0M378 0L367 8M314 22L332 41M314 22L337 14M332 41L340 33M304 21L314 22M416 1L409 12M376 30L379 30M379 30L409 12M379 30L403 47M409 12L417 42M417 42L403 47M417 133L407 128M419 93L411 94M419 93L420 93M407 128L411 94M419 93L420 89M411 94L399 89M420 67L400 64M400 64L394 72M394 72L399 89M383 130L407 128M383 130L388 97M388 97L399 89M394 72L377 67M388 97L371 94M371 94L377 67M372 35L376 65M400 64L403 47M376 65L377 67M417 42L420 43M300 85L314 94M300 99L314 94M325 138L319 125M325 138L341 143M341 143L368 132M319 125L320 121M320 121L353 107M368 132L353 107M383 130L376 135M376 135L368 132M371 94L355 97M355 97L353 107M344 166L341 143M376 135L376 139M369 166L371 159M376 139L371 159M408 166L420 161M371 159L389 166M376 139L408 166M300 149L306 160M300 162L306 160M300 126L319 125M325 138L314 160M314 160L306 160M314 160L318 166M314 95L317 98M314 95L325 63M317 98L352 93M339 66L348 76M339 66L327 62M348 76L352 93M325 63L327 62M320 121L317 98M313 59L325 63M355 97L352 93M369 36L339 66M376 65L348 76M332 41L327 62" fill="none" stroke="#1c3a28" stroke-width="2.6" vector-effect="non-scaling-stroke" stroke-opacity="0.85" transform="matrix(1,-0.504,0,1,523.9,641.2)"/>
<polygon points="382.4,590.4 523.9,640.4 523.9,807.2 382.4,757.2" fill="#2e3478"/>
<path d="M160 93L132 99M160 93L166 80M132 99L132 68M166 75L132 68M123 108L107 106M123 108L125 133M107 106L89 119M89 119L106 142M125 133L106 142M126 64L129 65M126 64L97 79M97 79L107 106M131 102L132 99M131 102L123 108M132 68L129 65M131 102L164 126M125 133L141 142M141 142L164 126M126 64L110 38M97 79L83 75M110 38L94 42M94 42L83 75M110 38L113 31M102 0L103 0M84 0L75 33M94 42L75 33M113 31L103 0M104 0L103 0M29 0L42 15M42 15L53 0M39 25L53 42M39 25L42 15M53 42L75 33M80 166L80 162M80 162L102 154M102 154L115 166M102 154L106 142M141 142L140 165M140 165L138 166M140 165L151 166M0 162L10 156M27 166L27 161M10 156L27 161M160 93L166 115M164 126L166 126M39 25L15 27M3 0L11 25M15 27L11 25M52 55L71 78M52 55L20 71M20 71L24 89M24 89L46 106M71 78L62 102M62 102L46 106M53 42L52 55M83 75L71 78M15 27L13 67M13 67L20 71M76 119L62 102M76 119L89 119M129 25L133 4M129 25L157 31M158 31L157 31M158 31L157 6M133 4L155 2M157 6L155 2M113 31L129 25M127 0L133 4M129 65L157 31M166 35L158 31M166 6L157 6M156 0L155 2M55 156L39 150M55 156L72 154M74 127L38 141M74 127L72 154M38 141L39 150M53 166L55 156M27 161L39 150M80 162L72 154M76 119L74 127M33 127L38 141M33 127L46 106M5 137L31 127M5 137L0 134M31 127L3 107M3 107L0 108M33 127L31 127M10 156L5 137M24 89L3 107M6 67L13 67M6 67L0 80M11 25L0 29M6 67L0 66" fill="none" stroke="#14183a" stroke-width="3" stroke-opacity="0.85" vector-effect="non-scaling-stroke" transform="matrix(0.85241,0.30120,0,1,382.4,591.2)"/>
<line x1="523.9" y1="641.2" x2="1148.9" y2="326.2" stroke="#383838" stroke-opacity="0.2" stroke-width="2"/>
<g transform="matrix(1,-0.504,0.85241,0.30120,382.4,591.2)" fill="none" stroke="#1e2a1e" stroke-width="2.2" stroke-linejoin="round" vector-effect="non-scaling-stroke"><polygon points="548,40 540,50 535,42 540,36"/><polygon points="548,114 542,120 533,113 540,106"/><polygon points="501,17 502,24 487,27 483,16 491,11 500,13"/><polygon points="602,66 595,75 589,69 596,58"/><polygon points="596,134 588,137 582,133 587,127"/><polygon points="612,63 607,69 599,68 589,62 598,54 609,56"/><polygon points="499,125 495,130 489,128 489,123 496,122"/><polygon points="489,126 484,132 476,128 477,122 485,115"/><polygon points="449,124 444,130 437,131 432,126 435,119 445,119"/><polygon points="611,27 607,33 601,27 607,22"/></g>
<g transform="matrix(1,-0.504,0,1,523.9,641.2)" fill="none" stroke="#1e2a1e" stroke-width="2.2" stroke-linejoin="round" vector-effect="non-scaling-stroke"><polygon points="611,23 609,28 604,29 601,22 604,16 610,17"/><polygon points="558,140 555,151 548,144 550,131 554,124"/><polygon points="499,85 496,91 492,96 490,85 489,75 498,76"/><polygon points="596,127 595,133 592,133 589,123 592,118 596,117"/></g>
<path d="M1227.5,362.2L1311.5,319.9M1369,412.2L1453,369.9M1311.5,319.9L1453,369.9M1311.5,319.9L1311.5,485.9M1453,369.9L1453,535.9M1311.5,485.9L1453,535.9M1369,578.2L1453,535.9" stroke="#b0b0b0" stroke-width="2.7" fill="none"/>
<g transform="matrix(1,-0.504,0.85241,0.30120,604.5,676.2)">
<rect x="0" y="0" width="265.1" height="166" fill="#2453b5"/>
<rect x="264.6" y="0" width="358.4" height="166" fill="url(#ga3t)"/>
<rect x="264.6" y="0" width="358.4" height="166" fill="url(#ga3ta)" filter="url(#blobT)"/>
</g>
<g transform="matrix(1,-0.504,0,1,746,726.2)">
<rect x="0" y="-1.5" width="265.1" height="167.5" fill="#2a62c2"/>
<rect x="264.6" y="-1.5" width="358.4" height="167.5" fill="url(#ga3r)"/>
<rect x="264.6" y="-1.5" width="358.4" height="167.5" fill="url(#ga3ra)" filter="url(#blobB)"/>
</g>
<path d="M0 1L2 0M4 166L7 155M7 155L0 150M80 107L97 101M80 107L93 131M109 100L97 101M109 100L105 133M105 133L93 131M29 127L28 127M29 127L39 162M28 127L26 127M26 127L10 154M10 154L36 166M39 162L36 166M62 135L29 127M62 135L68 107M68 107L40 106M40 106L28 126M0 123L26 127M7 155L10 154M253 166L262 164M262 164L265 166M152 166L152 165M152 165L166 157M166 157L174 166M108 70L103 69M108 70L111 88M109 100L110 99M97 101L87 85M110 99L111 88M103 69L87 85M67 87L70 106M67 87L73 80M70 106L80 107M73 80L87 85M16 0L23 9M37 0L23 9M103 69L80 64M73 80L80 64M80 64L80 64M116 60L116 56M116 60L108 70M86 42L80 64M86 42L104 40M104 40L116 56M40 106L36 96M28 126L11 92M36 96L11 92M0 91L4 88M11 92L4 88M53 156L63 166M53 156L39 162M249 166L226 154M226 154L217 166M182 166L193 160M193 160L204 166M165 0L164 5M143 0L164 5M74 26L74 30M74 26L52 17M74 30L54 49M54 49L46 20M52 17L46 20M58 0L52 17M76 0L82 13M82 13L74 26M53 51L54 49M53 51L80 64M86 42L74 30M26 16L46 20M26 16L23 9M82 13L85 13M104 40L108 20M85 13L108 20M85 13L97 0M48 60L16 69M48 60L49 78M16 69L41 83M49 78L41 83M51 52L38 46M51 52L48 60M38 46L13 69M13 69L16 69M67 87L49 78M51 52L53 51M36 96L41 83M4 88L11 69M11 69L13 69M70 106L68 107M11 69L9 66M9 66L0 63M256 102L261 96M256 102L233 93M256 76L261 94M256 76L251 75M233 93L251 75M261 96L261 94M263 148L265 145M263 148L262 164M233 93L226 93M226 93L225 81M251 75L236 65M225 81L236 65M265 52L243 48M256 76L265 68M243 48L235 62M235 62L236 65M115 9L111 19M115 9L140 3M111 19L133 29M140 3L139 23M139 23L133 29M108 20L111 19M112 0L115 9M142 0L140 3M132 45L116 56M132 45L133 29M0 25L21 29M0 41L11 44M11 44L21 31M21 29L21 31M26 16L21 29M9 66L11 44M38 46L21 31M110 146L140 143M110 146L106 160M106 160L110 166M139 157L140 143M139 157L130 166M107 136L110 146M107 136L136 122M136 122L140 143M152 165L139 157M165 144L140 143M165 144L166 157M81 165L92 159M81 165L63 141M92 159L80 139M80 139L63 138M63 138L63 141M81 166L81 165M106 160L92 159M53 156L63 141M105 133L107 136M93 131L80 139M62 135L63 138M110 99L136 109M136 122L138 115M138 115L136 109M111 88L137 81M147 95L136 109M148 94L137 81M116 60L137 71M137 71L137 81M256 102L254 117M254 117L237 124M226 93L220 102M220 102L223 113M237 124L223 113M263 148L234 138M254 117L258 121M265 138L258 121M237 124L234 138M226 154L226 149M234 138L226 149M220 102L204 99M225 81L200 68M200 68L193 80M204 99L193 80M193 160L192 142M226 149L206 137M192 142L206 137M223 113L208 126M204 99L191 113M191 113L208 126M206 137L208 126M258 121L265 120M261 96L265 97M258 21L251 21M258 21L265 6M251 21L236 10M236 10L245 0M265 24L258 21M243 48L242 44M242 44L251 21M234 9L216 34M234 9L226 1M226 1L206 1M206 1L210 30M210 30L215 34M215 34L216 34M242 44L216 34M236 10L234 9M226 0L226 1M202 0L206 1M235 62L212 53M200 68L200 65M200 65L212 53M215 34L212 43M212 43L212 53M148 94L163 73M137 71L156 63M163 73L162 70M156 63L162 70M132 45L155 52M156 63L155 52M163 73L180 84M193 80L180 84M200 65L186 55M162 70L186 55M189 114L178 132M189 114L175 100M168 102L163 122M168 102L175 100M163 122L173 133M173 133L178 132M192 142L178 132M191 113L189 114M180 84L175 100M147 95L168 102M138 115L163 122M165 144L173 133M261 94L265 91M196 41L184 50M196 41L182 19M184 50L169 33M176 19L179 18M176 19L169 31M169 31L169 33M182 19L179 18M212 43L196 41M186 55L184 50M210 30L182 19M155 52L169 33M164 5L176 19M194 0L179 18M139 23L169 31" fill="none" stroke="#1a2a60" stroke-width="2.6" stroke-opacity="0.8" vector-effect="non-scaling-stroke" transform="matrix(1,-0.504,0.85241,0.30120,604.5,676.2)"/>
<path d="M178 127L161 97M178 127L155 140M161 97L141 103M141 103L154 139M155 140L154 139M153 166L129 155M159 166L155 140M154 139L135 141M135 141L129 155M225 164L224 166M225 164L233 166M126 15L118 38M126 15L156 19M156 19L163 32M163 32L139 45M139 45L126 46M126 46L118 38M89 27L101 38M89 27L109 0M119 0L126 15M101 38L118 38M219 158L216 156M219 158L225 164M216 156L204 166M216 156L199 133M193 134L199 133M193 134L177 166M178 127L193 134M1 75L11 104M1 75L0 75M0 108L11 104M32 57L53 62M32 57L26 71M53 62L36 88M26 71L36 88M1 75L26 71M38 94L31 103M38 94L36 88M31 103L12 104M265 102L240 102M264 74L241 87M241 87L240 102M240 134L218 119M240 134L251 136M251 136L259 124M259 124L240 102M218 119L240 102M265 119L260 123M260 123L259 124M260 166L259 165M259 164L265 160M259 164L259 165M257 166L259 165M251 136L259 164M260 123L265 126M219 158L240 134M156 19L159 0M149 68L139 45M149 68L130 71M126 46L124 60M130 71L124 60M106 166L107 166M125 158L129 155M125 158L123 166M12 104L12 136M12 136L0 136M31 103L37 124M37 124L22 143M12 136L22 143M189 56L204 74M189 56L171 53M204 74L174 89M171 53L162 74M162 74L165 90M165 90L174 89M164 32L180 26M164 32L171 53M180 26L206 31M206 31L189 56M149 68L162 74M164 32L163 32M236 55L216 73M236 55L239 41M216 73L211 33M239 41L219 32M219 32L211 33M264 74L236 55M241 87L216 73M265 55L249 35M249 35L239 41M216 73L211 75M211 75L204 74M207 31L206 31M207 31L211 33M207 31L208 2M208 2L212 0M235 10L219 0M235 10L219 32M201 130L218 119M201 130L193 102M218 119L210 92M193 102L210 92M199 133L201 130M161 97L165 90M174 89L193 102M211 75L210 92M184 0L187 1M193 0L187 1M208 2L202 0M180 26L187 1M116 102L125 102M116 102L102 138M131 136L102 138M131 136L130 104M130 104L125 102M141 103L130 104M135 141L131 136M130 71L125 102M38 94L63 94M37 124L54 129M54 129L64 95M64 95L63 94M58 62L64 64M58 62L53 62M63 94L64 64M73 27L52 32M73 27L72 60M52 32L58 62M72 60L64 64M54 129L60 135M81 100L64 95M81 100L79 129M60 135L79 129M84 166L83 162M106 166L95 149M83 162L95 149M125 158L98 143M95 149L98 143M102 138L98 143M98 143L98 143M0 156L10 164M9 166L10 164M22 143L24 154M24 154L10 164M39 162L38 166M39 162L24 154M52 32L38 28M32 57L24 34M24 34L25 32M38 28L25 32M235 10L249 10M253 0L249 10M249 35L255 24M255 24L249 10M109 98L106 69M109 98L86 98M86 98L86 63M106 69L93 60M93 60L86 63M124 60L106 69M116 102L109 98M81 100L86 98M79 129L98 143M72 60L86 63M101 38L93 60M89 27L76 24M76 24L73 27M82 162L59 138M82 162L51 166M59 138L46 163M50 166L46 163M60 135L59 138M83 162L82 162M39 162L46 163M0 51L0 51M0 24L20 35M0 51L20 35M0 52L0 51M24 34L20 35M25 32L20 7M20 7L5 0M44 0L47 4M47 4L71 1M71 1L71 0M20 7L25 0M38 28L47 4M76 24L71 1M255 24L265 25" fill="none" stroke="#1a2a60" stroke-width="2.6" stroke-opacity="0.8" vector-effect="non-scaling-stroke" transform="matrix(1,-0.504,0,1,746,726.2)"/>
<polygon points="604.5,675.4 746,725.4 746,892.2 604.5,842.2" fill="#2e3478"/>
<path d="M104 5L122 8M104 5L102 39M102 39L116 46M122 8L144 25M116 46L144 25M161 0L157 0M166 32L163 31M157 0L156 25M163 31L156 25M166 86L146 63M146 63L163 31M104 5L100 0M122 8L129 0M144 25L156 25M61 0L60 3M87 0L60 3M100 0L99 0M58 6L40 4M58 6L60 3M40 4L33 0M0 37L3 37M3 37L12 0M102 39L95 42M58 6L63 28M63 28L95 42M166 90L158 104M166 108L158 104M68 166L70 164M70 164L75 166M166 131L150 116M158 104L154 108M154 108L150 116M1 166L5 164M5 164L0 153M5 164L13 166M62 152L70 164M62 152L33 142M17 166L33 142M146 63L124 64M154 108L133 92M133 92L124 64M116 46L124 64M86 166L89 164M89 164L105 166M150 116L134 130M134 130L142 166M50 51L53 62M50 51L26 42M53 62L23 76M23 76L11 49M26 42L12 46M12 46L11 49M40 4L26 42M63 28L50 51M0 62L11 49M0 96L15 102M15 102L23 76M3 37L12 46M15 102L16 103M0 129L16 114M16 103L16 114M33 142L31 134M16 114L31 134M62 152L72 109M31 134L72 109M95 42L86 59M124 64L100 84M100 84L86 59M16 103L63 96M72 109L74 106M74 106L63 96M53 62L60 69M63 96L60 69M86 59L60 69M104 135L129 129M104 135L77 106M129 129L108 97M77 106L98 92M108 97L98 92M89 164L104 135M134 130L129 129M74 106L77 106M133 92L108 97M100 84L98 92" fill="none" stroke="#14183a" stroke-width="3" stroke-opacity="0.85" vector-effect="non-scaling-stroke" transform="matrix(0.85241,0.30120,0,1,604.5,676.2)"/>
<line x1="746" y1="726.2" x2="1369" y2="412.2" stroke="#383838" stroke-opacity="0.45" stroke-width="2"/>
<g transform="matrix(1,-0.504,0.85241,0.30120,604.5,676.2)" fill="none" stroke="#1e2a1e" stroke-width="2.2" stroke-linejoin="round" vector-effect="non-scaling-stroke"><polygon points="312,65 308,73 301,70 297,66 302,63 308,61"/><polygon points="305,68 297,72 289,68 295,62"/><polygon points="344,99 340,106 327,107 329,94 339,91"/><polygon points="305,124 301,132 294,132 287,125 288,120 304,121"/><polygon points="318,91 307,96 296,88 309,81"/></g>
<path d="M1458.8,455.4L1548.8,410.1M1600.3,505.4L1690.3,460.1M1548.8,410.1L1690.3,460.1M1548.8,410.1L1548.8,576.1M1690.3,460.1L1690.3,626.1M1548.8,576.1L1690.3,626.1M1600.3,671.4L1690.3,626.1" stroke="#b0b0b0" stroke-width="2.7" fill="none"/>
<g transform="matrix(1,-0.504,0.85241,0.30120,841.8,766.4)">
<rect x="0" y="0" width="203.3" height="166" fill="#2453b5"/>
<rect x="202.8" y="0" width="414.2" height="166" fill="url(#ga4t)"/>
<rect x="202.8" y="0" width="414.2" height="166" fill="url(#ga4ta)" filter="url(#blobT)"/>
</g>
<g transform="matrix(1,-0.504,0,1,983.3,816.4)">
<rect x="0" y="-1.5" width="203.3" height="167.5" fill="#2a62c2"/>
<rect x="202.8" y="-1.5" width="414.2" height="167.5" fill="url(#ga4r)"/>
<rect x="202.8" y="-1.5" width="414.2" height="167.5" fill="url(#ga4ra)" filter="url(#blobB)"/>
</g>
<path d="M172 4L175 0M172 4L154 0M154 0L154 0M92 0L87 2M87 2L78 0M130 0L128 12M106 0L109 5M109 5L126 14M126 14L128 12M144 0L128 12M120 66L118 65M120 66L147 55M118 65L117 40M147 55L148 49M148 49L134 28M117 40L132 27M132 27L134 28M151 20L134 28M151 20L154 0M126 14L132 27M87 2L84 19M65 0L61 6M61 6L76 22M76 22L84 19M109 5L97 29M84 19L97 29M117 40L98 35M97 29L98 35M124 82L122 89M124 82L120 66M122 89L94 80M118 65L98 66M98 66L94 80M119 99L120 98M119 99L99 102M122 89L120 98M94 80L90 88M90 88L97 102M99 102L97 102M158 77L171 91M158 77L151 82M151 82L144 104M171 91L173 99M173 99L169 111M169 111L152 114M152 114L144 104M158 74L147 55M158 74L158 77M124 82L151 82M120 98L144 104M179 124L169 111M179 124L179 133M179 133L165 142M143 127L148 140M143 127L152 114M165 142L148 140M46 31L46 24M46 31L28 40M28 40L21 35M21 35L13 26M46 24L25 13M25 13L13 26M0 45L21 35M13 26L0 24M69 84L90 88M69 84L60 93M86 111L97 102M86 111L59 97M60 93L59 97M28 40L21 57M0 53L12 60M21 57L12 60M87 46L72 36M87 46L86 57M86 57L72 65M72 65L53 56M72 36L52 37M52 37L53 56M76 22L72 36M98 35L87 46M98 66L86 57M69 84L72 65M60 93L39 71M39 70L39 71M39 70L53 56M46 31L52 37M61 6L52 12M46 24L52 12M21 57L39 70M119 99L123 121M99 102L105 123M105 123L123 121M143 127L127 126M123 121L127 126M167 165L165 142M167 165L141 163M148 140L138 159M141 163L138 159M188 159L195 166M188 159L180 166M179 133L194 147M194 147L188 159M167 165L168 166M141 166L141 163M158 74L175 64M175 64L175 43M148 49L171 40M175 43L171 40M151 20L170 25M171 40L170 25M172 4L174 19M170 25L174 19M6 0L23 9M23 9L30 0M0 0L2 0M25 13L23 9M52 12L42 0M53 104L59 97M53 104L32 99M39 71L25 88M32 99L25 88M12 60L8 86M25 88L8 86M203 137L200 146M203 147L200 146M179 124L197 116M194 147L200 146M197 116L203 125M197 19L197 43M197 19L203 12M197 43L203 48M175 43L197 43M174 19L197 19M202 0L203 1M197 116L203 109M0 87L5 87M5 87L13 119M13 119L0 119M8 86L5 87M14 120L16 120M14 120L13 119M16 120L32 99M0 139L14 120M86 111L82 126M53 104L53 122M82 126L63 128M53 122L63 128M16 120L32 137M53 122L32 137M105 123L97 136M82 126L88 133M97 136L88 133M203 58L191 70M203 91L191 75M191 75L191 70M175 64L191 70M173 99L203 98M171 91L191 75M0 153L5 157M32 137L32 141M32 141L5 157M5 157L5 166M63 128L64 137M88 133L75 153M64 137L75 153M127 126L119 139M97 136L97 137M119 139L97 137M138 159L124 157M119 139L124 157M41 157L34 166M41 157L51 162M51 162L56 166M32 141L41 157M64 137L51 162M74 164L75 153M74 164L62 166M124 157L98 163M124 157L122 166M98 163L95 166M97 137L98 163M124 157L124 157M74 164L78 166" fill="none" stroke="#1a2a60" stroke-width="2.6" stroke-opacity="0.8" vector-effect="non-scaling-stroke" transform="matrix(1,-0.504,0.85241,0.30120,841.8,766.4)"/>
<path d="M7 166L0 160M3 133L0 131M3 133L0 148M3 133L8 129M0 102L7 101M7 101L8 129M15 166L36 139M36 139L26 129M26 129L8 129M41 166L45 161M45 161L53 166M73 158L85 164M73 158L67 166M86 166L85 164M73 158L68 147M45 161L49 144M68 147L49 144M36 139L48 142M48 142L49 144M2 2L0 5M2 2L21 2M21 2L22 3M13 30L0 31M13 30L24 4M24 4L22 3M0 1L2 2M20 0L21 2M22 3L23 0M27 73L45 78M27 73L10 94M11 95L37 106M11 95L10 94M45 78L50 87M50 87L51 99M51 99L37 106M0 84L10 94M0 60L18 57M18 57L27 73M7 101L11 95M26 129L37 106M55 56L75 55M55 56L45 78M81 72L75 55M81 72L50 87M48 142L61 107M61 107L51 99M18 40L19 56M18 40L46 30M19 56L47 47M46 30L47 47M13 30L18 40M18 57L19 56M55 56L47 47M67 0L78 24M47 27L78 24M47 27L35 6M35 6L43 0M24 4L35 6M46 30L47 27M68 147L85 129M61 107L77 109M77 109L85 129M75 55L85 39M78 24L86 29M85 39L86 29M101 0L89 27M89 27L86 29M152 141L129 139M152 141L165 161M129 139L137 166M165 161L164 166M192 166L192 164M165 161L177 157M177 157L192 164M130 24L147 0M130 24L116 0M164 23L165 9M164 23L134 38M165 9L147 0M134 38L130 33M130 33L130 24M130 33L89 27M165 9L178 0M152 141L157 133M129 139L126 138M157 133L152 97M139 94L152 97M139 94L130 98M130 98L126 138M115 166L114 143M126 138L114 143M85 164L109 141M114 143L109 141M85 129L102 136M109 141L102 136M104 76L87 77M104 76L119 95M119 95L107 102M107 102L78 108M87 77L78 108M81 72L87 77M110 61L85 39M110 61L104 76M130 98L119 95M102 136L107 102M77 109L78 108M158 56L139 85M158 56L134 39M139 85L126 53M134 39L126 53M110 61L126 53M139 94L139 85M134 38L134 39M203 16L198 30M203 35L198 33M198 30L198 33M178 0L198 30M183 54L192 35M183 54L198 67M192 35L198 33M198 67L203 64M164 23L169 28M169 28L192 35M174 58L163 56M174 58L180 89M180 89L169 95M161 56L163 95M161 56L163 56M163 95L169 95M183 54L174 58M169 28L163 56M198 67L193 89M193 89L180 89M152 97L163 95M158 56L161 56M157 133L180 124M180 124L169 95M180 124L195 130M193 89L196 91M196 91L200 127M200 127L195 130M177 157L192 137M192 164L203 164M192 137L203 153M192 137L195 130M196 91L203 91M200 127L203 127" fill="none" stroke="#1a2a60" stroke-width="2.6" stroke-opacity="0.8" vector-effect="non-scaling-stroke" transform="matrix(1,-0.504,0,1,983.3,816.4)"/>
<polygon points="841.8,765.6 983.3,815.6 983.3,982.4 841.8,932.4" fill="#2e3478"/>
<path d="M166 73L147 65M147 65L154 34M166 36L154 34M166 99L151 111M141 71L147 65M141 71L146 108M146 108L151 111M166 128L155 121M151 111L155 121M166 158L137 164M136 166L137 164M155 121L131 150M131 150L137 164M88 166L78 163M78 166L78 163M141 71L105 69M105 69L102 63M154 34L153 33M102 63L109 47M109 47L144 31M144 31L153 33M109 144L114 143M109 144L82 134M114 143L122 108M82 134L95 102M122 108L103 97M103 97L95 102M102 166L109 144M131 150L114 143M146 108L122 108M105 69L103 97M0 98L7 93M0 72L8 74M8 74L7 93M82 134L79 136M79 136L78 162M78 162L51 166M66 93L68 64M66 93L95 102M102 63L99 62M68 64L99 62M109 47L100 18M100 18L72 22M99 62L72 22M98 0L111 3M111 0L111 2M111 3L111 2M100 18L111 3M69 22L72 22M69 22L69 0M144 31L119 3M119 3L111 2M158 0L162 4M162 4L166 1M119 3L122 0M153 33L162 4M44 0L34 24M25 0L34 24M7 0L0 13M0 25L0 26M37 74L19 65M37 74L63 61M19 65L23 34M63 61L52 32M52 32L34 28M34 28L23 34M66 93L46 105M46 105L37 74M68 64L63 61M8 74L19 65M0 26L23 34M69 22L52 32M34 24L34 28M46 105L44 110M79 136L54 131M54 131L44 110M7 93L26 110M26 110L44 110M38 164L39 151M38 164L36 166M39 151L5 134M0 136L0 135M0 135L5 134M43 166L38 164M54 131L39 151M26 110L5 134" fill="none" stroke="#14183a" stroke-width="3" stroke-opacity="0.85" vector-effect="non-scaling-stroke" transform="matrix(0.85241,0.30120,0,1,841.8,766.4)"/>
<line x1="983.3" y1="816.4" x2="1600.3" y2="505.4" stroke="#383838" stroke-opacity="0.45" stroke-width="2"/>
<path d="M1631.8,1593.6L1751.3,1636.4M1580.8,1619.2L1631.8,1593.6" stroke="#3c3c3c" stroke-width="3" fill="none"/>
<g transform="matrix(1,-0.503,0,1,1068.6,1770.2)">
<rect x="0" y="0" width="164.4" height="94" fill="#2856a8"/>
<rect x="164" y="0" width="237" height="94" fill="url(#gb1)"/>
</g>
<polygon points="1469.6,1568.5 1549.3,1597 1549.3,1691 1469.6,1662.5" fill="#f0982e"/>
<g transform="matrix(1,-0.503,0.84752,0.30355,1068.6,1864.2)">
<rect x="0" y="0" width="164.4" height="94" fill="#2856a8"/>
<rect x="164" y="0" width="237" height="94" fill="url(#gb1)"/>
</g>
<g transform="matrix(1,-0.503,0.84752,0.30355,1028.8,1755.9)">
<rect x="0" y="0" width="164.4" height="47.8" fill="#2856a8"/>
<rect x="164" y="0" width="237" height="47.8" fill="url(#gb1)"/>
</g>
<g transform="matrix(1,-0.503,0.84752,0.30355,1028.8,1755.9)">
<rect x="400.5" y="0" width="151.5" height="141" fill="url(#gb1)"/>
</g>
<g transform="matrix(1,-0.503,0,1,1148.3,1798.7)">
<rect x="0" y="93.2" width="164.4" height="47.8" fill="#2856a8"/>
<rect x="164" y="93.2" width="237.5" height="47.8" fill="url(#gb1)"/>
</g>
<g transform="matrix(1,-0.503,0,1,1148.3,1798.7)">
<rect x="401" y="-1" width="151" height="142" fill="url(#gb1)"/>
</g>
<polygon points="1028.8,1755.9 1068.6,1770.2 1068.6,1864.2 1148.3,1892.7 1148.3,1939.7 1028.8,1896.9" fill="#2856a8"/>
<path d="M1028.8,1755.9L1631.8,1452.6M1549.3,1597L1751.3,1495.4M1148.3,1939.7L1751.3,1636.4M1631.8,1452.6L1751.3,1495.4M1751.3,1495.4L1751.3,1636.4" stroke="#3c3c3c" stroke-width="3" fill="none"/>
<polygon points="1028.8,1755.9 1068.6,1770.2 1068.6,1864.2 1148.3,1892.7 1148.3,1939.7 1028.8,1896.9" fill="none" stroke="#1c1c2a" stroke-width="2.5"/>
<path d="M1068.6,1770.2L1469.6,1568.5M1068.6,1864.2L1469.6,1662.5M1148.3,1892.7L1549.3,1691M1148.3,1892.7L1148.3,1939.7" stroke="#1c1c2a" stroke-width="2.5" fill="none"/>
<polygon points="1469.6,1568.5 1549.3,1597 1549.3,1691 1469.6,1662.5" fill="none" stroke="#1c1c2a" stroke-width="2.5"/>
<path d="M1912.2,1710.8L2031.7,1753.6M1870.7,1731.7L1912.2,1710.8" stroke="#3c3c3c" stroke-width="3" fill="none"/>
<g transform="matrix(1,-0.503,0,1,1349,1887.4)">
<rect x="0" y="0" width="219.9" height="94" fill="#2856a8"/>
<rect x="219.5" y="0" width="181.5" height="94" fill="url(#gb2)"/>
<rect x="219.5" y="0" width="181.5" height="94" fill="url(#gb2a)" filter="url(#blobA)"/>
<path d="M26 0L24 2M24 2L21 0M52 60L66 52M52 60L46 89M66 52L82 82M46 89L70 89M70 89L82 82M41 93L41 94M41 93L46 89M70 94L70 89M92 85L82 82M92 85L95 94M54 0L58 6M58 6L75 0M24 2L27 16M0 24L6 27M6 0L0 5M6 27L27 16M49 22L58 6M49 22L45 23M45 23L27 16M13 50L26 53M13 50L0 60M0 60L4 86M27 54L26 53M27 54L28 89M4 86L14 93M28 89L14 93M6 27L13 50M45 23L26 53M0 87L4 86M52 60L27 54M49 22L64 39M67 52L64 39M41 93L28 89M13 94L14 93M216 32L220 32M216 32L207 25M207 25L211 0M207 25L186 25M186 25L186 0M123 94L125 83M125 83L140 82M140 82L146 91M146 91L144 94M220 92L217 93M217 93L217 94M192 75L174 78M192 75L197 94M174 78L168 94M195 72L192 75M195 72L217 93M146 91L161 94M157 0L162 20M186 25L183 27M183 27L162 20M140 82L148 55M174 78L161 59M161 59L148 55M92 85L106 73M67 52L86 48M106 73L86 48M125 83L108 72M106 73L108 72M220 57L209 50M220 72L200 64M209 50L200 63M200 63L200 64M216 32L209 50M195 72L200 64M183 27L180 45M180 45L200 63M180 45L161 59M64 39L87 22M86 48L101 36M87 22L101 36M75 0L77 0M87 22L86 0M119 51L109 37M119 51L144 51M127 16L112 33M127 16L147 34M112 33L109 37M147 34L144 51M108 72L119 51M101 36L109 37M148 55L144 51M127 0L127 16M102 0L112 33M162 20L147 34" fill="none" stroke="#1a1f4a" stroke-width="1.5" stroke-opacity="0.85" vector-effect="non-scaling-stroke"/>
</g>
<polygon points="1750,1685.7 1829.7,1714.2 1829.7,1808.2 1750,1779.7" fill="#ef8a30"/>
<rect x="0" y="0" width="94" height="94" fill="url(#gb2na)" filter="url(#blobA)" transform="matrix(0.84752,0.30355,0,1,1750,1685.7)"/>
<g transform="matrix(1,-0.503,0.84752,0.30355,1349,1981.4)">
<rect x="0" y="0" width="219.9" height="94" fill="#2856a8"/>
<rect x="219.5" y="0" width="181.5" height="94" fill="url(#gb2)"/>
<rect x="219.5" y="0" width="181.5" height="94" fill="url(#gb2a)" filter="url(#blobA)"/>
<path d="M21 64L28 63M21 64L0 82M0 83L9 94M10 94L31 67M28 63L32 65M31 67L32 65M0 47L21 44M0 54L21 64M21 44L28 63M29 94L31 67M21 44L24 36M15 24L24 36M15 24L6 21M6 21L0 26M174 89L150 80M174 89L172 94M147 82L150 80M147 82L144 94M205 0L204 0M151 17L151 2M151 17L158 30M151 2L154 0M183 12L162 32M183 12L180 0M158 30L162 32M197 14L205 0M197 14L188 15M188 15L183 12M32 0L34 3M47 0L34 3M49 94L54 79M32 65L44 64M44 64L54 79M4 0L4 1M4 1L0 2M15 24L34 11M6 21L4 1M34 11L34 3M83 0L84 1M84 1L85 0M151 2L146 0M50 53L62 51M50 53L44 34M62 51L80 34M44 34L47 27M47 27L57 22M57 22L76 26M76 26L80 34M44 64L50 53M54 79L79 79M83 69L79 79M83 69L62 51M24 36L44 34M34 11L47 27M58 0L57 22M84 1L85 4M85 4L76 26M85 4L112 19M122 0L118 15M112 19L118 15M151 17L129 19M129 19L118 15M138 42L158 30M138 42L136 42M129 19L136 42M147 82L130 77M150 80L153 65M153 65L145 59M145 59L130 65M130 77L130 65M114 93L114 94M114 93L114 86M114 86L81 83M81 94L81 83M115 94L114 93M130 77L115 84M115 84L114 86M79 79L81 83M197 14L215 24M215 24L218 20M218 0L218 20M109 34L120 46M109 34L88 39M88 39L90 62M120 46L120 50M120 50L107 65M90 62L107 65M112 19L109 34M136 42L120 46M80 34L88 39M83 69L90 62M145 59L138 42M130 65L120 50M115 84L107 65M153 65L168 55M162 32L170 43M168 55L170 43M188 15L194 42M170 43L194 42M215 24L210 38M210 38L198 43M194 42L198 43M174 89L179 85M186 94L179 85M168 55L185 78M179 85L185 78M210 38L220 44M218 20L220 20M219 66L216 75M219 66L199 60M216 75L201 82M199 60L190 77M190 77L201 82M220 65L219 66M220 79L216 75M198 43L199 60M209 94L201 82M185 78L190 77" fill="none" stroke="#1a1f4a" stroke-width="1.5" stroke-opacity="0.85" vector-effect="non-scaling-stroke"/>
</g>
<g transform="matrix(1,-0.503,0.84752,0.30355,1309.2,1873.1)">
<rect x="0" y="0" width="219.9" height="47.8" fill="#2856a8"/>
<rect x="219.5" y="0" width="181.5" height="47.8" fill="url(#gb2)"/>
<rect x="219.5" y="0" width="181.5" height="47.8" fill="url(#gb2a)" filter="url(#blobA)"/>
<path d="M106 48L103 26M80 41L99 48M80 41L81 30M81 30L91 19M103 26L91 19M188 13L203 30M188 13L175 34M175 34L176 37M176 37L195 41M195 41L203 33M203 33L203 30M208 0L215 12M186 0L188 13M215 12L203 30M171 0L164 3M164 3L163 20M163 20L175 34M197 48L195 41M220 39L203 33M215 12L220 13M9 45L9 21M9 45L36 46M36 46L40 35M40 35L18 17M9 21L18 17M7 47L6 48M7 47L9 45M0 16L9 21M92 0L93 8M93 8L92 9M92 9L66 3M68 0L66 3M81 30L57 7M91 19L92 9M66 3L57 7M28 4L23 0M28 4L37 0M18 17L28 4M49 28L40 35M49 28L56 7M56 7L48 0M56 7L57 7M7 47L8 48M49 28L69 44M80 41L76 44M69 44L76 44M76 44L76 48M164 3L158 0M123 23L113 21M123 23L131 15M113 21L104 5M131 15L133 0M110 0L104 5M120 41L123 23M120 41L106 48M103 26L113 21M93 8L104 5M163 20L146 29M146 29L131 15M162 48L146 30M135 48L135 47M135 47L146 30M176 37L167 48M146 29L146 30M120 41L135 47M36 46L36 48M69 44L64 48" fill="none" stroke="#1a1f4a" stroke-width="1.5" stroke-opacity="0.85" vector-effect="non-scaling-stroke"/>
</g>
<g transform="matrix(1,-0.503,0.84752,0.30355,1309.2,1873.1)">
<rect x="400.5" y="0" width="161" height="141" fill="url(#gb2)"/>
<rect x="400.5" y="0" width="161" height="141" fill="url(#gb2a)" filter="url(#blobA)"/>
</g>
<g transform="matrix(1,-0.503,0,1,1428.7,1915.9)">
<rect x="0" y="93.2" width="219.9" height="47.8" fill="#2856a8"/>
<rect x="219.5" y="93.2" width="182" height="47.8" fill="url(#gb2)"/>
<rect x="219.5" y="93.2" width="182" height="47.8" fill="url(#gb2a)" filter="url(#blobA)"/>
<path d="M0 106L1 105M4 93L1 105M218 141L213 140M213 140L210 130M210 130L219 112M220 111L219 112M85 141L81 130M115 138L112 141M115 138L96 114M93 114L96 114M93 114L85 118M85 118L81 130M60 94L59 93M60 94L62 93M93 114L90 93M64 107L85 118M64 107L60 94M32 93L32 93M0 129L1 130M0 132L1 130M49 139L47 123M49 139L23 139M47 123L28 113M23 139L17 129M17 129L27 113M51 141L81 130M50 141L49 139M64 107L47 123M32 93L28 113M22 141L23 139M1 130L17 129M1 105L27 113M184 133L186 135M184 133L173 141M186 135L187 141M213 140L213 141M210 130L186 135M184 133L173 117M158 141L157 139M173 117L165 116M165 116L164 117M164 117L157 139M157 139L141 141M115 138L130 136M130 136L133 141M188 93L192 101M198 93L193 101M193 101L192 101M173 117L192 101M165 116L159 93M219 112L193 101M132 128L148 118M132 128L117 103M148 118L131 93M117 103L122 93M164 117L148 118M130 136L132 128M96 114L117 103" fill="none" stroke="#1a1f4a" stroke-width="1.5" stroke-opacity="0.85" vector-effect="non-scaling-stroke"/>
</g>
<g transform="matrix(1,-0.503,0,1,1428.7,1915.9)">
<rect x="401" y="-1" width="160.5" height="142" fill="url(#gb2)"/>
<rect x="401" y="-1" width="160.5" height="142" fill="url(#gb2a)" filter="url(#blobA)"/>
</g>
<polygon points="1309.2,1873.1 1349,1887.4 1349,1981.4 1428.7,2009.9 1428.7,2056.9 1309.2,2014.1" fill="#2856a8"/>
<g transform="matrix(0.84752,0.30355,0,1,1309.2,1873.1)"><path d="M51 18L47 26M51 18L44 4M47 26L21 39M44 4L42 3M42 3L25 7M25 7L13 28M13 28L21 39M42 0L42 3M18 0L25 7M44 4L54 0M92 3L100 0M92 3L89 0M92 3L85 29M51 18L80 32M85 29L80 32M141 0L136 23M141 24L136 23M43 141L29 119M60 141L62 109M29 119L53 106M53 106L62 109M0 68L11 80M0 60L23 45M29 74L21 80M29 74L32 55M21 80L11 80M32 55L23 45M0 91L11 80M28 119L29 119M28 119L21 80M52 86L53 106M52 86L29 74M28 119L23 120M0 114L23 120M47 51L47 26M47 51L32 55M21 39L23 45M2 28L0 29M2 28L0 25M13 28L2 28M114 0L125 19M85 29L105 39M105 39L125 19M136 23L134 23M125 19L134 23M134 141L141 133M85 135L103 134M85 135L80 141M107 141L103 134M117 111L103 134M117 111L120 111M141 120L138 116M120 111L138 116M23 120L13 141M117 111L106 102M85 135L78 114M106 102L78 114M62 109L72 110M78 114L72 110M120 111L127 89M106 102L105 101M127 89L117 79M105 101L117 79M105 39L118 58M134 23L125 58M125 58L118 59M118 58L118 59M141 71L136 61M141 58L136 61M127 89L141 78M125 58L136 61M117 79L118 59M138 116L141 108M96 70L92 83M96 70L71 50M92 83L80 85M80 85L64 75M64 75L66 54M66 54L71 50M105 101L92 83M118 58L96 70M80 32L71 50M72 110L80 85M52 86L64 75M47 51L66 54" fill="none" stroke="#1a1f4a" stroke-width="1.5" stroke-opacity="0.85" vector-effect="non-scaling-stroke" clip-path="url(#fc2)"/></g>
<polyline points="1528.7,1762.7 1568.5,1777 1568.5,1871 1648.2,1899.5 1648.2,1946.5" fill="none" stroke="#86dc6c" stroke-width="3.2" stroke-opacity="0.85"/>
<path d="M1309.2,1873.1L1912.2,1569.8M1829.7,1714.2L2031.7,1612.6M1428.7,2056.9L2031.7,1753.6M1912.2,1569.8L2031.7,1612.6M2031.7,1612.6L2031.7,1753.6" stroke="#3c3c3c" stroke-width="3" fill="none"/>
<polygon points="1309.2,1873.1 1349,1887.4 1349,1981.4 1428.7,2009.9 1428.7,2056.9 1309.2,2014.1" fill="none" stroke="#1c1c2a" stroke-width="2.5"/>
<path d="M1349,1887.4L1750,1685.7M1349,1981.4L1750,1779.7M1428.7,2009.9L1829.7,1808.2M1428.7,2009.9L1428.7,2056.9" stroke="#1c1c2a" stroke-width="2.5" fill="none"/>
<polygon points="1750,1685.7 1829.7,1714.2 1829.7,1808.2 1750,1779.7" fill="none" stroke="#1c1c2a" stroke-width="2.5"/>
<path d="M2209,1818.2L2328.5,1861M2148.7,1848.5L2209,1818.2" stroke="#3c3c3c" stroke-width="3" fill="none"/>
<g transform="matrix(1,-0.503,0,1,1645.8,1994.8)">
<rect x="0" y="0" width="230.4" height="94" fill="#2856a8"/>
<rect x="230" y="0" width="171" height="94" fill="url(#gb3)"/>
<rect x="230" y="0" width="171" height="94" fill="url(#gb3a)" filter="url(#blobG)"/>
</g>
<polygon points="2046.8,1793.1 2126.5,1821.6 2126.5,1915.6 2046.8,1887.1" fill="#f09030"/>
<rect x="0" y="0" width="94" height="94" fill="url(#gb3na)" filter="url(#blobG)" transform="matrix(0.84752,0.30355,0,1,2046.8,1793.1)"/>
<g transform="matrix(1,-0.503,0.84752,0.30355,1645.8,2088.8)">
<rect x="0" y="0" width="230.4" height="94" fill="#2856a8"/>
<rect x="230" y="0" width="171" height="94" fill="url(#gb3)"/>
<rect x="230" y="0" width="171" height="94" fill="url(#gb3a)" filter="url(#blobG)"/>
</g>
<g transform="matrix(1,-0.503,0.84752,0.30355,1606,1980.5)">
<rect x="0" y="0" width="230.4" height="47.8" fill="#2856a8"/>
<rect x="230" y="0" width="171" height="47.8" fill="url(#gb3)"/>
<rect x="230" y="0" width="171" height="47.8" fill="url(#gb3a)" filter="url(#blobG)"/>
</g>
<g transform="matrix(1,-0.503,0.84752,0.30355,1606,1980.5)">
<rect x="400.5" y="0" width="142.2" height="141" fill="url(#gb3)"/>
<rect x="400.5" y="0" width="142.2" height="141" fill="url(#gb3a)" filter="url(#blobG)"/>
</g>
<g transform="matrix(1,-0.503,0,1,1725.5,2023.3)">
<rect x="0" y="93.2" width="230.4" height="47.8" fill="#2856a8"/>
<rect x="230" y="93.2" width="171.5" height="47.8" fill="url(#gb3)"/>
<rect x="230" y="93.2" width="171.5" height="47.8" fill="url(#gb3a)" filter="url(#blobG)"/>
</g>
<g transform="matrix(1,-0.503,0,1,1725.5,2023.3)">
<rect x="401" y="-1" width="141.7" height="142" fill="url(#gb3)"/>
<rect x="401" y="-1" width="141.7" height="142" fill="url(#gb3a)" filter="url(#blobG)"/>
</g>
<polygon points="1606,1980.5 1645.8,1994.8 1645.8,2088.8 1725.5,2117.3 1725.5,2164.3 1606,2121.5" fill="#2856a8"/>
<path d="M1606,1980.5L2209,1677.2M2126.5,1821.6L2328.5,1720M1725.5,2164.3L2328.5,1861M2209,1677.2L2328.5,1720M2328.5,1720L2328.5,1861" stroke="#3c3c3c" stroke-width="3" fill="none"/>
<polygon points="1606,1980.5 1645.8,1994.8 1645.8,2088.8 1725.5,2117.3 1725.5,2164.3 1606,2121.5" fill="none" stroke="#1c1c2a" stroke-width="2.5"/>
<path d="M1645.8,1994.8L2046.8,1793.1M1645.8,2088.8L2046.8,1887.1M1725.5,2117.3L2126.5,1915.6M1725.5,2117.3L1725.5,2164.3" stroke="#1c1c2a" stroke-width="2.5" fill="none"/>
<polygon points="2046.8,1793.1 2126.5,1821.6 2126.5,1915.6 2046.8,1887.1" fill="none" stroke="#1c1c2a" stroke-width="2.5"/>
<path d="M2506.4,1923.4L2625.9,1966.2M2444.2,1954.7L2506.4,1923.4" stroke="#3c3c3c" stroke-width="3" fill="none"/>
<g transform="matrix(1,-0.503,0,1,1943.2,2100)">
<rect x="0" y="0" width="259.4" height="94" fill="#2856a8"/>
<rect x="259" y="0" width="142" height="94" fill="url(#gb4)"/>
<rect x="259" y="0" width="142" height="94" fill="url(#gb4a)" filter="url(#blobG)"/>
<path d="M146 30L148 51M146 30L184 30M148 51L162 63M184 30L179 59M162 63L179 59M10 35L29 32M10 35L1 24M29 32L15 9M1 24L4 13M15 9L4 13M0 25L1 24M0 9L4 13M29 76L27 65M29 76L0 84M27 65L8 55M0 56L8 55M10 35L8 55M42 38L41 44M42 38L54 22M41 44L67 60M54 22L66 26M66 26L70 59M67 60L70 59M29 32L42 38M27 65L41 44M21 2L52 11M21 2L15 9M52 11L54 22M131 23L143 27M131 23L111 35M143 27L146 30M148 51L127 63M127 63L113 60M111 35L113 60M113 6L93 14M113 6L127 10M127 10L131 23M93 14L91 26M111 35L91 26M56 2L52 11M56 2L67 0M89 0L93 14M66 26L87 28M91 26L87 28M70 59L81 57M87 28L81 57M34 85L26 94M34 85L29 76M154 88L162 63M154 88L152 90M127 63L135 83M152 90L135 83M81 57L85 60M113 60L111 61M85 60L111 61M123 90L135 83M123 90L107 79M111 61L107 79M56 2L56 0M113 6L110 0M85 60L85 83M107 79L100 85M85 83L100 85M123 90L122 94M151 94L152 90M100 85L102 94M21 2L21 0M154 88L173 94M179 59L190 67M190 67L195 87M185 94L195 87M248 0L244 10M259 23L244 10M227 0L225 9M244 10L225 9M209 0L219 13M225 9L219 13M127 10L129 0M175 0L177 0M177 0L178 0M143 27L162 0M188 26L184 30M188 26L177 0M188 26L202 26M202 26L218 14M219 13L218 14M243 56L259 33M243 56L259 63M228 28L259 31M228 28L218 14M212 46L232 50M212 46L205 59M205 59L228 75M232 50L241 57M241 57L235 74M235 74L228 75M202 26L212 46M228 28L232 50M190 67L205 59M195 87L204 91M204 91L228 75M243 56L241 57M259 89L249 91M249 91L241 84M241 84L235 74M204 91L206 94M249 91L249 94M241 84L233 94M74 92L74 94M74 92L58 84M58 84L40 87M40 87L41 94M85 83L74 92M67 60L58 84M34 85L40 87" fill="none" stroke="#1a1f4a" stroke-width="1.5" stroke-opacity="0.85" vector-effect="non-scaling-stroke"/>
</g>
<polygon points="2344.2,1898.3 2423.9,1926.8 2423.9,2020.8 2344.2,1992.3" fill="#f08c30"/>
<rect x="0" y="0" width="94" height="94" fill="url(#gb4na)" filter="url(#blobG)" transform="matrix(0.84752,0.30355,0,1,2344.2,1898.3)"/>
<g transform="matrix(1,-0.503,0.84752,0.30355,1943.2,2194)">
<rect x="0" y="0" width="259.4" height="94" fill="#2856a8"/>
<rect x="259" y="0" width="142" height="94" fill="url(#gb4)"/>
<rect x="259" y="0" width="142" height="94" fill="url(#gb4a)" filter="url(#blobG)"/>
<path d="M112 94L107 80M119 94L138 73M107 80L109 63M109 63L135 64M138 73L135 64M200 55L180 77M200 55L205 56M205 56L210 60M210 60L212 74M212 74L191 88M191 88L180 77M181 37L200 55M181 37L208 20M217 27L205 56M217 27L217 24M208 20L217 24M231 44L217 27M231 44L224 57M224 57L210 60M244 67L221 88M244 67L224 57M221 88L212 74M210 0L204 12M188 0L186 4M204 12L186 4M232 17L217 24M232 17L230 9M208 20L204 12M230 9L223 0M181 37L180 37M180 37L173 12M173 12L186 4M116 22L120 0M116 22L108 26M86 3L86 14M86 3L93 0M108 26L86 14M86 3L84 0M193 94L191 88M178 77L180 77M178 77L168 94M178 77L173 73M173 73L164 74M148 80L164 74M148 80L151 94M216 94L221 88M221 88L230 94M239 40L235 18M239 40L255 47M255 47L259 37M235 18L258 15M259 17L258 16M258 15L258 16M231 44L239 40M232 17L235 18M244 67L249 67M249 67L257 58M257 58L255 47M230 9L236 0M258 15L252 0M2 59L0 59M2 59L10 74M9 76L10 74M9 76L0 79M2 53L2 59M2 53L0 51M5 94L9 76M19 75L35 80M19 75L10 74M35 80L37 94M108 26L107 41M88 44L104 47M88 44L76 33M86 14L80 20M107 41L104 47M76 33L80 20M173 73L167 48M180 37L170 43M167 48L170 43M164 74L152 55M167 48L152 55M138 73L148 80M135 64L138 57M152 55L138 57M165 2L165 0M165 2L139 4M139 4L137 0M173 12L172 12M172 12L165 2M249 67L252 76M252 76L248 94M258 16L259 15M60 94L68 68M84 94L80 78M80 78L75 69M68 67L74 69M68 67L68 68M74 69L75 69M37 94L41 94M37 79L35 80M37 79L68 68M107 80L80 78M104 58L109 63M104 58L75 69M88 44L74 69M66 62L67 42M66 62L68 67M76 33L67 42M66 62L38 50M38 50L37 79M104 47L104 58M38 50L35 46M67 42L46 32M46 32L35 46M2 53L18 42M19 75L32 45M18 42L32 45M0 19L15 19M18 42L15 19M32 45L35 46M135 47L137 49M135 47L131 25M137 49L151 34M151 34L148 22M131 25L140 19M140 19L148 22M107 41L135 47M138 57L137 49M116 22L131 25M170 43L151 34M172 12L148 22M139 4L140 19M252 76L259 80M257 58L259 58M49 16L46 19M49 16L53 0M46 19L22 10M21 0L22 10M80 20L49 16M46 32L46 19M15 19L22 10" fill="none" stroke="#1a1f4a" stroke-width="1.5" stroke-opacity="0.85" vector-effect="non-scaling-stroke"/>
</g>
<g transform="matrix(1,-0.503,0.84752,0.30355,1903.4,2085.7)">
<rect x="0" y="0" width="259.4" height="47.8" fill="#2856a8"/>
<rect x="259" y="0" width="142" height="47.8" fill="url(#gb4)"/>
<rect x="259" y="0" width="142" height="47.8" fill="url(#gb4a)" filter="url(#blobG)"/>
<path d="M12 0L3 5M0 3L3 5M28 0L35 3M35 3L37 0M259 47L258 48M259 4L258 4M258 4L258 0M259 5L258 4M39 17L14 32M39 17L45 20M14 32L33 43M33 43L42 40M45 20L42 40M35 3L39 17M58 0L62 3M62 3L61 19M45 20L61 19M146 46L146 44M146 46L147 48M146 44L154 35M154 35L170 48M145 48L146 46M62 3L65 0M91 6L89 0M91 6L89 12M61 19L64 22M64 22L84 21M89 12L84 21M50 48L50 47M50 47L63 36M63 36L72 48M33 48L33 43M42 40L50 47M64 22L63 36M86 48L91 36M91 36L114 36M116 48L117 42M117 42L114 36M84 21L91 36M89 12L117 25M117 25L114 36M146 44L117 42M147 25L119 22M147 25L135 0M119 22L120 1M120 1L121 0M155 31L154 35M155 31L147 25M117 25L119 22M162 0L162 24M162 24L155 31M91 6L120 1M226 48L222 42M206 48L222 42M180 48L194 26M205 48L194 26M257 48L256 46M256 46L226 35M226 35L222 42M190 0L200 13M162 24L194 21M200 13L194 21M194 26L194 21M0 21L5 20M0 43L9 43M5 20L14 32M14 32L9 43M3 5L5 20M9 48L9 43M256 46L249 19M226 35L225 29M225 29L249 19M258 4L253 6M253 6L249 19M209 5L203 12M209 5L223 0M203 12L218 20M218 20L244 2M241 0L244 2M210 0L209 5M200 13L203 12M225 29L218 20M253 6L244 2" fill="none" stroke="#1a1f4a" stroke-width="1.5" stroke-opacity="0.85" vector-effect="non-scaling-stroke"/>
</g>
<g transform="matrix(1,-0.503,0.84752,0.30355,1903.4,2085.7)">
<rect x="400.5" y="0" width="140.3" height="141" fill="url(#gb4)"/>
<rect x="400.5" y="0" width="140.3" height="141" fill="url(#gb4a)" filter="url(#blobG)"/>
</g>
<g transform="matrix(1,-0.503,0,1,2022.9,2128.5)">
<rect x="0" y="93.2" width="259.4" height="47.8" fill="#2856a8"/>
<rect x="259" y="93.2" width="142.5" height="47.8" fill="url(#gb4)"/>
<rect x="259" y="93.2" width="142.5" height="47.8" fill="url(#gb4a)" filter="url(#blobG)"/>
<path d="M19 141L21 139M21 139L0 127M116 93L110 105M129 127L110 105M129 127L137 102M137 102L128 93M238 141L225 133M254 141L257 136M244 112L254 119M244 112L225 133M257 136L254 119M243 93L244 111M244 111L244 112M254 119L259 117M0 110L14 109M14 109L13 93M21 139L23 138M23 138L24 123M24 123L14 109M225 133L215 140M215 141L215 140M257 136L259 137M23 138L33 140M33 140L34 141M93 118L105 137M93 118L83 116M83 116L72 137M105 137L102 141M72 137L72 141M129 127L131 133M110 105L93 118M131 133L118 139M118 139L105 137M118 141L118 139M33 140L48 132M48 132L72 137M83 116L82 114M82 114L86 93M166 93L162 108M162 108L137 102M66 93L69 109M40 101L57 111M40 101L39 93M57 111L69 109M82 114L69 109M24 123L40 101M48 132L57 111M131 133L140 136M140 136L142 141M162 108L164 116M140 136L164 116M244 111L215 110M211 93L215 110M184 141L192 137M174 141L169 118M169 118L194 118M192 137L202 127M194 118L201 122M201 122L202 127M193 141L192 137M164 116L169 118M194 93L194 118M215 140L202 127M215 110L201 122" fill="none" stroke="#1a1f4a" stroke-width="1.5" stroke-opacity="0.85" vector-effect="non-scaling-stroke"/>
</g>
<g transform="matrix(1,-0.503,0,1,2022.9,2128.5)">
<rect x="401" y="-1" width="139.8" height="142" fill="url(#gb4)"/>
<rect x="401" y="-1" width="139.8" height="142" fill="url(#gb4a)" filter="url(#blobG)"/>
</g>
<polygon points="1903.4,2085.7 1943.2,2100 1943.2,2194 2022.9,2222.5 2022.9,2269.5 1903.4,2226.7" fill="#2856a8"/>
<g transform="matrix(0.84752,0.30355,0,1,1903.4,2085.7)"><path d="M60 77L50 82M60 77L59 61M50 82L30 77M59 61L41 48M41 48L16 60M30 77L16 60M132 3L141 2M132 3L141 13M124 0L132 3M40 34L41 48M40 34L32 27M12 59L16 60M12 59L9 38M9 38L32 27M42 0L29 6M14 0L29 6M3 65L0 72M3 65L0 63M30 77L10 102M10 102L0 86M12 59L3 65M10 102L11 106M11 106L0 116M130 56L132 81M130 56L141 49M132 81L141 82M49 136L65 120M49 136L32 129M65 120L39 106M32 129L28 112M39 106L28 112M11 106L28 112M0 131L15 141M24 141L32 129M50 82L39 106M141 135L134 141M141 34L121 24M130 56L115 48M121 24L115 48M0 5L3 6M3 6L0 16M9 0L3 6M9 38L0 29M29 6L32 27M50 141L49 136M63 78L76 94M63 78L99 62M99 62L109 85M76 94L109 85M60 77L63 78M65 120L78 118M76 94L78 118M89 0L90 2M93 0L92 2M90 2L92 2M123 0L118 4M92 2L118 4M121 24L119 18M118 4L119 18M59 61L75 41M99 62L100 56M100 56L75 41M115 48L105 52M119 18L98 32M105 52L98 32M87 141L88 138M78 118L83 123M83 123L88 138M108 141L105 139M88 138L105 139M87 5L83 26M87 5L58 8M58 8L58 25M58 25L75 37M75 37L83 26M90 2L87 5M98 32L83 26M49 0L58 8M40 34L58 25M75 41L75 37M100 56L105 52M104 110L117 119M104 110L113 87M120 87L113 87M120 87L131 117M131 117L117 119M83 123L104 110M105 139L117 119M109 85L113 87M132 81L120 87M141 123L131 117" fill="none" stroke="#1a1f4a" stroke-width="1.5" stroke-opacity="0.85" vector-effect="non-scaling-stroke" clip-path="url(#fc4)"/></g>
<polyline points="2162.4,1955.4 2202.2,1969.7 2202.2,2063.7 2281.9,2092.2 2281.9,2139.2" fill="none" stroke="#86dc6c" stroke-width="3.2" stroke-opacity="0.85"/>
<path d="M1903.4,2085.7L2506.4,1782.4M2423.9,1926.8L2625.9,1825.2M2022.9,2269.5L2625.9,1966.2M2506.4,1782.4L2625.9,1825.2M2625.9,1825.2L2625.9,1966.2" stroke="#3c3c3c" stroke-width="3" fill="none"/>
<polygon points="1903.4,2085.7 1943.2,2100 1943.2,2194 2022.9,2222.5 2022.9,2269.5 1903.4,2226.7" fill="none" stroke="#1c1c2a" stroke-width="2.5"/>
<path d="M1943.2,2100L2344.2,1898.3M1943.2,2194L2344.2,1992.3M2022.9,2222.5L2423.9,2020.8M2022.9,2222.5L2022.9,2269.5" stroke="#1c1c2a" stroke-width="2.5" fill="none"/>
<polygon points="2344.2,1898.3 2423.9,1926.8 2423.9,2020.8 2344.2,1992.3" fill="none" stroke="#1c1c2a" stroke-width="2.5"/>
<text x="960" y="128" font-size="66.8" text-anchor="start" >Microstructure+10% voids</text>
<text x="1138" y="210.9" font-size="66.8"><tspan font-style="italic">U</tspan><tspan font-size="36" dy="13">P</tspan><tspan dy="-13">=1 000 m/s</tspan></text>
<text x="1597" y="277.4" font-size="49.5" text-anchor="middle" >Undeformed</text>
<text x="1597" y="331.5" font-size="49.5" text-anchor="middle" >sample end</text>
<line x1="1466.6" y1="307.6" x2="1420" y2="340.5" stroke="#1a1a1a" stroke-width="3.5"/>
<polygon points="1411.3,346.6 1417,333 1426,345" fill="#1a1a1a"/>
<text x="1855" y="179.4" font-size="66.8" text-anchor="middle" >Pressure/</text>
<text x="1855" y="258.6" font-size="66.8" text-anchor="middle" >GPa</text>
<rect x="1780.5" y="303.5" width="30.5" height="655.5" fill="url(#cba)"/><path d="M1803.5,380.5h7.5M1803.5,455.6h7.5M1803.5,479.8h7.5M1803.5,495.3h7.5M1803.5,510.7h7.5M1803.5,530.6h7.5M1803.5,554.9h7.5M1803.5,588h7.5M1803.5,632.2h7.5M1803.5,707.2h7.5M1803.5,731.5h7.5M1803.5,747h7.5M1803.5,764.6h7.5M1803.5,784.5h7.5M1803.5,811h7.5M1803.5,868.4h7.5" stroke="#303030" stroke-opacity="0.4" stroke-width="2"/>
<text x="1835" y="327.7" font-size="66.8" text-anchor="start" >40</text>
<text x="1835" y="404" font-size="66.8" text-anchor="start" >20</text>
<text x="1835" y="480" font-size="66.8" text-anchor="start" >10</text>
<text x="1835" y="556" font-size="66.8" text-anchor="start" >5</text>
<text x="1835" y="731" font-size="66.8" text-anchor="start" >1</text>
<text x="1835" y="982" font-size="66.8" text-anchor="start" >0.1</text>
<text x="31.5" y="773.3" font-size="66.8"><tspan font-style="italic">t</tspan><tspan dx="0">=880 ns</tspan></text>
<text x="188.6" y="852.9" font-size="66.8"><tspan font-style="italic">t</tspan><tspan dx="0">=1 000 ns</tspan></text>
<text x="406.5" y="932.5" font-size="66.8"><tspan font-style="italic">t</tspan><tspan dx="0">=1 080 ns</tspan></text>
<text x="639" y="1028.9" font-size="66.8"><tspan font-style="italic">t</tspan><tspan dx="0">=1 200 ns</tspan></text>
<line x1="1216" y1="879.5" x2="1689" y2="644" stroke="#2a2a2a" stroke-width="3.5"/>
<polygon points="1206.9,884 1222,870 1226,882" fill="#2a2a2a"/>
<polygon points="1697.8,639.7 1679,642 1685,653" fill="#2a2a2a"/>
<text x="0" y="0" font-size="49.5" transform="translate(1264,917) rotate(-26.5)">Run distance=4.16 mm</text>
<text x="352" y="1290.6" font-size="66.6" text-anchor="start" >(a) Spatial distribution of pressures during shock initiation process and pressure-time histories at each cross-section</text>
<text x="400" y="2416.9" font-size="66.6" text-anchor="start" >(b) Shock-to-detonation transition distances for different structural heterogeneous explosives at 5.05 GPa shock</text>
<text x="1514" y="1420.2" font-size="50" text-anchor="start" >Homogeneous (H)</text>
<text x="2020" y="1420.2" font-size="66.8" text-anchor="start" >Shock pressure≈5.05 GPa</text>
<text x="1767" y="1550.1" font-size="50" text-anchor="start" >Microstructure (M)</text>
<text x="2122" y="1657" font-size="50" text-anchor="start" >10% voids (V)</text>
<text x="2361" y="1711.4" font-size="50" text-anchor="start" >Microstructure+</text>
<text x="2355" y="1769.7" font-size="50" text-anchor="start" >10% voids (M+V)</text>
<text x="2814" y="1502.9" font-size="66.8" text-anchor="middle" >Pressure/</text>
<text x="2815" y="1580" font-size="66.8" text-anchor="middle" >GPa</text>
<rect x="2732.5" y="1625.7" width="30.5" height="620" fill="url(#cbb)"/><path d="M2755.5,1698.5h7.5M2755.5,1769.6h7.5M2755.5,1792.5h7.5M2755.5,1807.1h7.5M2755.5,1821.7h7.5M2755.5,1840.5h7.5M2755.5,1863.5h7.5M2755.5,1894.8h7.5M2755.5,1936.6h7.5M2755.5,2007.5h7.5M2755.5,2030.5h7.5M2755.5,2045.2h7.5M2755.5,2061.8h7.5M2755.5,2080.7h7.5M2755.5,2105.7h7.5M2755.5,2160h7.5" stroke="#303030" stroke-opacity="0.4" stroke-width="2"/>
<text x="2786" y="1648.6" font-size="66.8" text-anchor="start" >40</text>
<text x="2786" y="1720" font-size="66.8" text-anchor="start" >20</text>
<text x="2786" y="1791.4" font-size="66.8" text-anchor="start" >10</text>
<text x="2786" y="1861" font-size="66.8" text-anchor="start" >5</text>
<text x="2786" y="2028.6" font-size="66.8" text-anchor="start" >1</text>
<text x="2786" y="2265.7" font-size="66.8" text-anchor="start" >0.1</text>
<text x="781.6" y="1980.7" font-size="66.8"><tspan font-style="italic">x</tspan><tspan font-size="36" dy="-25">*</tspan><tspan dy="25" dx="-1">=4.23 mm</tspan></text>
<text x="1069" y="2093" font-size="66.8"><tspan font-style="italic">x</tspan><tspan font-size="36" dy="-25">*</tspan><tspan dy="25" dx="-1">=3.73 mm</tspan></text>
<text x="1354.6" y="2203.2" font-size="66.8"><tspan font-style="italic">x</tspan><tspan font-size="36" dy="-25">*</tspan><tspan dy="25" dx="-1">=3.58 mm</tspan></text>
<text x="1640" y="2311.5" font-size="66.8"><tspan font-style="italic">x</tspan><tspan font-size="36" dy="-25">*</tspan><tspan dy="25" dx="-1">=3.34 mm</tspan></text>
<line x1="2312" y1="2154" x2="2628" y2="1994" stroke="#2a2a2a" stroke-width="3.5"/>
<polygon points="2303,2158.5 2318,2144 2323,2156" fill="#2a2a2a"/>
<polygon points="2639,1989.5 2619,1993 2625,2004.5" fill="#2a2a2a"/>
<text x="0" y="0" font-size="51.5" transform="translate(2357,2196) rotate(-26.6)">Run distance, <tspan font-style="italic">x</tspan><tspan font-size="32" dy="-19">*</tspan></text>
<g fill="none" stroke-width="5.5" stroke-linejoin="round" stroke-linecap="round" clip-path="url(#plotclip)">
<polyline stroke="#151515" points="2329,1024.5 2481,1024.5 2500,999.4 2533.7,932 2558.6,923 2588,920 2661,917.3 2734.6,912.9 2793,910 2852,910 2940,902.6 3028,896.8 3086.5,892.4 3151,882 3174.5,908.5 3186,964 3201,1023"/>
<polyline stroke="#b05cb8" points="2329,1024.5 2661,1024.5 2690.6,996.5 2711,932 2723,923 2764,917 2822.6,913 2910.6,902.6 2969,896.8 3086.5,885 3115.8,870 3200,848 3248,821.5 3296,785.5 3334.6,742 3358.6,689 3385,636.5 3406.7,646 3435.5,665 3459.6,675 3488.4,706 3527,713 3575,735 3632.6,749.4 3680.7,747 3741,739.8"/>
<polyline stroke="#3656b4" points="2329,1024.5 2849,1024 2869.5,1017 2893,929 2910.6,920 2969,908.5 3013,899.7 3057,891 3116,879 3200,847 3248,814 3296,761.5 3334.6,703.8 3358.6,602.8 3377.8,610 3402,631.7 3435.5,667.7 3488.4,682 3517,696.6 3584.5,706 3618,723 3661.4,727.8 3690.3,735 3741,749.4"/>
<polyline stroke="#f08030" points="3028,1024 3045.5,1017 3072,917 3086.5,908.5 3116,896.8 3151,886.5 3200,869.6 3248,840.8 3296,800 3339.4,732.6 3363.4,646 3382.7,516.3 3406.7,540 3440.3,578.8 3478.8,612.4 3517,651 3555.7,670 3613.4,689 3642,689 3680.7,703.8 3709.5,718 3741,723"/>
<polyline stroke="#3aaa48" points="3204.8,1024 3228.8,982.6 3255.3,888.8 3296,867 3358.6,814 3385,756.6 3411.5,540 3436.4,395.5 3459.6,482.7 3488.4,535.5 3527,574 3565.3,617 3613.4,636.5 3661.4,665 3680.7,675 3709.5,679.7 3741,689"/>
<polyline stroke="#58585c" points="3363.4,1024 3382.7,1016 3411.5,843 3435.5,800 3450,684.5 3469,492 3487.5,210.2 3507.6,348 3536.5,444 3565.3,516.3 3613.4,569 3642.2,641 3680.7,660.5 3709.5,679.7 3741,703.8"/>
<polyline stroke="#d42232" points="3512.4,1024 3539.8,183 3558,300 3584.5,396 3613.4,482.7 3651.8,569 3680.7,607.6 3709.5,619.7 3741,636.5"/>
<polyline stroke="#2f80c8" points="3570,1024 3591.8,1006.6 3617,277.3 3632.6,314.4 3680.7,439.4 3741,545"/>
<polyline stroke="#1f5a2c" points="3644.6,1024 3668.7,1001.8 3694.3,318.2 3719.1,386.5 3741,425"/>
</g>
<rect x="2329.5" y="34" width="1414.5" height="990.5" fill="none" stroke="#1a1a1a" stroke-width="5.5"/>
<text x="2586" y="1096" font-size="66.8" text-anchor="middle" >200</text>
<text x="2843.9" y="1096" font-size="66.8" text-anchor="middle" >400</text>
<text x="3101.8" y="1096" font-size="66.8" text-anchor="middle" >600</text>
<text x="3359.7" y="1096" font-size="66.8" text-anchor="middle" >800</text>
<text x="3617.6" y="1096" font-size="66.8" text-anchor="middle" >1 000</text>
<path d="M2586,1024.5V1008.5 M2843.9,1024.5V1008.5 M3101.8,1024.5V1008.5 M3359.7,1024.5V1008.5 M3617.6,1024.5V1008.5 M2329.5,826.4H2345.5 M2329.5,628.3H2345.5 M2329.5,430.2H2345.5 M2329.5,232.1H2345.5" stroke="#1a1a1a" stroke-width="4.5"/>
<text x="2303" y="1047" font-size="66.8" text-anchor="end" >0</text>
<text x="2303" y="848.9" font-size="66.8" text-anchor="end" >5</text>
<text x="2303" y="650.8" font-size="66.8" text-anchor="end" >10</text>
<text x="2303" y="452.7" font-size="66.8" text-anchor="end" >15</text>
<text x="2303" y="254.6" font-size="66.8" text-anchor="end" >20</text>
<text x="2303" y="56.5" font-size="66.8" text-anchor="end" >25</text>
<text x="3027" y="1190.3" font-size="66.8" text-anchor="middle" >Time/ns</text>
<text x="0" y="0" font-size="66.8" text-anchor="middle" transform="translate(2194.6,528.8) rotate(-90)">Pressure/GPa</text>
<text x="2407" y="142" font-size="66.8" text-anchor="start" >Microstructure+10% voids</text>
<text x="2409" y="222.5" font-size="66.8"><tspan font-style="italic">U</tspan><tspan font-size="36" dy="13">P</tspan><tspan dy="-13">=1 000 m/s</tspan></text>
<line x1="2413.5" y1="289.6" x2="2545" y2="289.6" stroke="#151515" stroke-width="5.5"/>
<text x="2572" y="311.3" font-size="66.8" text-anchor="start" >0.05 mm</text>
<line x1="2413.5" y1="352.8" x2="2545" y2="352.8" stroke="#b05cb8" stroke-width="5.5"/>
<text x="2572" y="374.5" font-size="66.8" text-anchor="start" >0.10 mm</text>
<line x1="2413.5" y1="416" x2="2545" y2="416" stroke="#3656b4" stroke-width="5.5"/>
<text x="2572" y="437.7" font-size="66.8" text-anchor="start" >0.15 mm</text>
<line x1="2413.5" y1="479.2" x2="2545" y2="479.2" stroke="#f08030" stroke-width="5.5"/>
<text x="2572" y="500.9" font-size="66.8" text-anchor="start" >0.25 mm</text>
<line x1="2413.5" y1="542.4" x2="2545" y2="542.4" stroke="#3aaa48" stroke-width="5.5"/>
<text x="2572" y="564.1" font-size="66.8" text-anchor="start" >0.30 mm</text>
<line x1="2413.5" y1="605.6" x2="2545" y2="605.6" stroke="#58585c" stroke-width="5.5"/>
<text x="2572" y="627.3" font-size="66.8" text-anchor="start" >0.35 mm</text>
<line x1="2413.5" y1="668.8" x2="2545" y2="668.8" stroke="#d42232" stroke-width="5.5"/>
<text x="2572" y="690.5" font-size="66.8" text-anchor="start" >0.47 mm</text>
<line x1="2413.5" y1="732" x2="2545" y2="732" stroke="#2f80c8" stroke-width="5.5"/>
<text x="2572" y="753.7" font-size="66.8" text-anchor="start" >0.49 mm</text>
<line x1="2413.5" y1="795.2" x2="2545" y2="795.2" stroke="#1f5a2c" stroke-width="5.5"/>
<text x="2572" y="816.9" font-size="66.8" text-anchor="start" >0.55 mm</text>
</svg>
</body></html>
